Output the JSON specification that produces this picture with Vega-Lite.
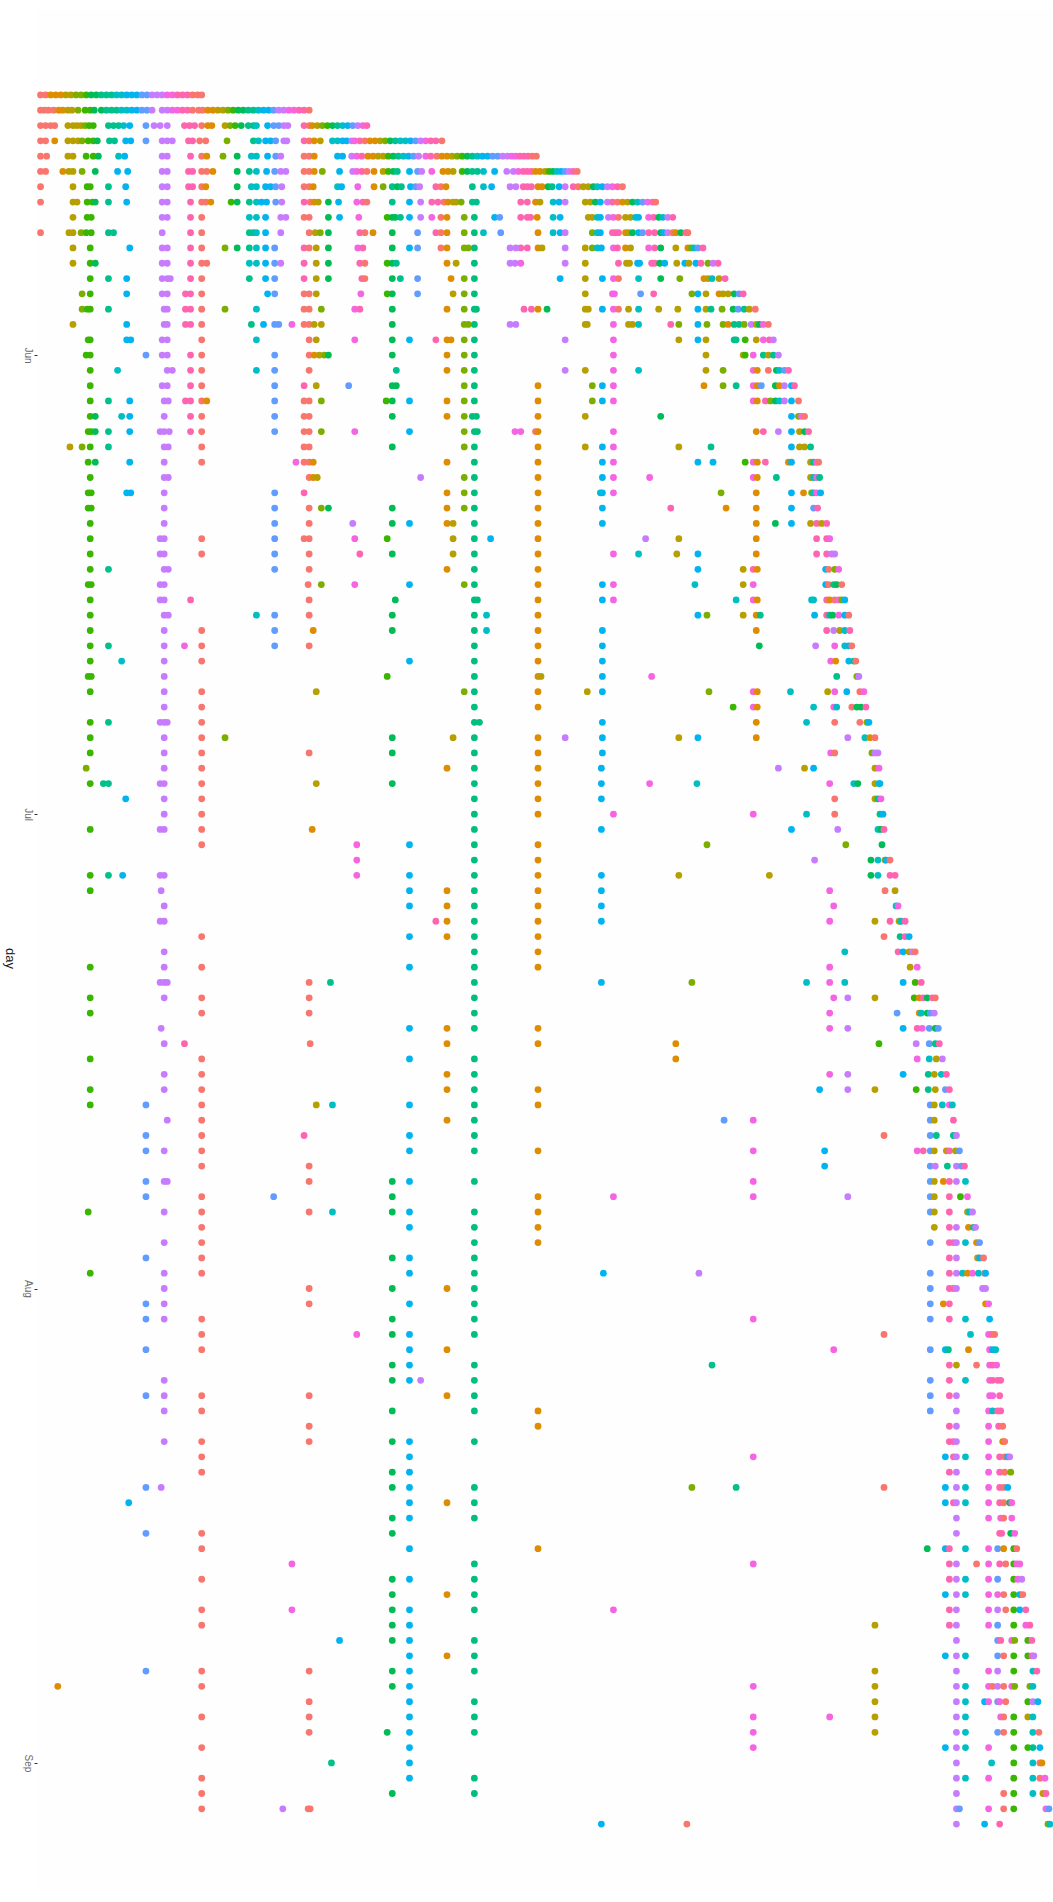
{"$schema":"https://vega.github.io/schema/vega-lite/v6.json","width":1016,"height":1882,"autosize":{"type":"none"},"padding":{"left":37,"top":10,"right":0,"bottom":10},"background":"white","view":{"stroke":null,"fill":"#fefefe"},
"data":{"format":{"parse":{"d":"utc:'%m-%d'"}},"values":[
{"d":"05-15","x":40,"c":0},{"d":"05-15","x":45,"c":0},{"d":"05-15","x":50,"c":1},{"d":"05-15","x":55,"c":1},{"d":"05-15","x":60,"c":1},{"d":"05-15","x":65,"c":2},{"d":"05-15","x":70,"c":2},{"d":"05-15","x":75,"c":3},{"d":"05-15","x":80,"c":3},{"d":"05-15","x":85,"c":4},{"d":"05-15","x":90,"c":5},{"d":"05-15","x":95,"c":5},{"d":"05-15","x":100,"c":6},{"d":"05-15","x":105,"c":6},{"d":"05-15","x":110,"c":6},{"d":"05-15","x":115,"c":7},{"d":"05-15","x":120,"c":7},{"d":"05-15","x":125,"c":8},{"d":"05-15","x":130,"c":8},{"d":"05-15","x":135,"c":8},{"d":"05-15","x":140,"c":9},{"d":"05-15","x":145,"c":9},{"d":"05-15","x":150,"c":10},{"d":"05-15","x":155,"c":10},{"d":"05-15","x":160,"c":10},{"d":"05-15","x":165,"c":11},{"d":"05-15","x":170,"c":11},{"d":"05-15","x":175,"c":12},{"d":"05-15","x":180,"c":12},{"d":"05-15","x":185,"c":12},{"d":"05-15","x":190,"c":0},{"d":"05-15","x":195,"c":0},{"d":"05-15","x":199,"c":0},
{"d":"05-16","x":40,"c":0},{"d":"05-16","x":44,"c":0},{"d":"05-16","x":48,"c":0},{"d":"05-16","x":53,"c":0},{"d":"05-16","x":58,"c":1},{"d":"05-16","x":62,"c":1},{"d":"05-16","x":67,"c":2},{"d":"05-16","x":71,"c":2},{"d":"05-16","x":77,"c":3},{"d":"05-16","x":84,"c":4},{"d":"05-16","x":89,"c":4},{"d":"05-16","x":93,"c":5},{"d":"05-16","x":100,"c":5},{"d":"05-16","x":105,"c":6},{"d":"05-16","x":110,"c":6},{"d":"05-16","x":115,"c":6},{"d":"05-16","x":120,"c":7},{"d":"05-16","x":125,"c":7},{"d":"05-16","x":130,"c":8},{"d":"05-16","x":135,"c":8},{"d":"05-16","x":140,"c":9},{"d":"05-16","x":145,"c":9},{"d":"05-16","x":150,"c":10},{"d":"05-16","x":160,"c":10},{"d":"05-16","x":165,"c":10},{"d":"05-16","x":170,"c":11},{"d":"05-16","x":175,"c":11},{"d":"05-16","x":180,"c":12},{"d":"05-16","x":185,"c":12},{"d":"05-16","x":190,"c":0},{"d":"05-16","x":196,"c":0},{"d":"05-16","x":200,"c":0},{"d":"05-16","x":205,"c":1},{"d":"05-16","x":210,"c":1},{"d":"05-16","x":215,"c":2},{"d":"05-16","x":220,"c":2},{"d":"05-16","x":225,"c":3},{"d":"05-16","x":230,"c":4},{"d":"05-16","x":235,"c":5},{"d":"05-16","x":240,"c":5},{"d":"05-16","x":245,"c":6},{"d":"05-16","x":250,"c":6},{"d":"05-16","x":255,"c":7},{"d":"05-16","x":260,"c":8},{"d":"05-16","x":265,"c":8},{"d":"05-16","x":270,"c":9},{"d":"05-16","x":275,"c":10},{"d":"05-16","x":280,"c":10},{"d":"05-16","x":285,"c":11},{"d":"05-16","x":290,"c":11},{"d":"05-16","x":295,"c":12},{"d":"05-16","x":300,"c":12},{"d":"05-16","x":305,"c":0},
{"d":"05-17","x":40,"c":0},{"d":"05-17","x":45,"c":0},{"d":"05-17","x":50,"c":0},{"d":"05-17","x":54,"c":0},{"d":"05-17","x":67,"c":2},{"d":"05-17","x":72,"c":2},{"d":"05-17","x":76,"c":2},{"d":"05-17","x":80,"c":2},{"d":"05-17","x":84,"c":3},{"d":"05-17","x":88,"c":4},{"d":"05-17","x":92,"c":4},{"d":"05-17","x":107,"c":6},{"d":"05-17","x":112,"c":6},{"d":"05-17","x":117,"c":6},{"d":"05-17","x":122,"c":7},{"d":"05-17","x":128,"c":8},{"d":"05-17","x":144,"c":9},{"d":"05-17","x":152,"c":10},{"d":"05-17","x":158,"c":10},{"d":"05-17","x":165,"c":10},{"d":"05-17","x":182,"c":12},{"d":"05-17","x":187,"c":12},{"d":"05-17","x":192,"c":12},{"d":"05-17","x":199,"c":0},{"d":"05-17","x":205,"c":1},{"d":"05-17","x":209,"c":1},{"d":"05-17","x":222,"c":2},{"d":"05-17","x":227,"c":3},{"d":"05-17","x":232,"c":4},{"d":"05-17","x":238,"c":5},{"d":"05-17","x":245,"c":6},{"d":"05-17","x":250,"c":6},{"d":"05-17","x":253,"c":7},{"d":"05-17","x":264,"c":8},{"d":"05-17","x":270,"c":9},{"d":"05-17","x":275,"c":9},{"d":"05-17","x":280,"c":10},{"d":"05-17","x":284,"c":10},{"d":"05-17","x":300,"c":12},{"d":"05-17","x":305,"c":0},{"d":"05-17","x":308,"c":1},{"d":"05-17","x":313,"c":2},{"d":"05-17","x":318,"c":3},{"d":"05-17","x":323,"c":4},{"d":"05-17","x":328,"c":5},{"d":"05-17","x":333,"c":6},{"d":"05-17","x":338,"c":7},{"d":"05-17","x":343,"c":8},{"d":"05-17","x":348,"c":9},{"d":"05-17","x":353,"c":10},{"d":"05-17","x":358,"c":11},{"d":"05-17","x":362,"c":12},
{"d":"05-18","x":40,"c":0},{"d":"05-18","x":45,"c":0},{"d":"05-18","x":54,"c":1},{"d":"05-18","x":67,"c":2},{"d":"05-18","x":72,"c":2},{"d":"05-18","x":77,"c":2},{"d":"05-18","x":81,"c":3},{"d":"05-18","x":87,"c":4},{"d":"05-18","x":92,"c":4},{"d":"05-18","x":96,"c":5},{"d":"05-18","x":108,"c":6},{"d":"05-18","x":113,"c":6},{"d":"05-18","x":124,"c":8},{"d":"05-18","x":129,"c":8},{"d":"05-18","x":144,"c":9},{"d":"05-18","x":160,"c":10},{"d":"05-18","x":165,"c":10},{"d":"05-18","x":170,"c":10},{"d":"05-18","x":186,"c":12},{"d":"05-18","x":190,"c":12},{"d":"05-18","x":197,"c":0},{"d":"05-18","x":203,"c":0},{"d":"05-18","x":224,"c":3},{"d":"05-18","x":250,"c":6},{"d":"05-18","x":255,"c":7},{"d":"05-18","x":262,"c":8},{"d":"05-18","x":267,"c":8},{"d":"05-18","x":272,"c":9},{"d":"05-18","x":280,"c":10},{"d":"05-18","x":283,"c":10},{"d":"05-18","x":300,"c":12},{"d":"05-18","x":305,"c":0},{"d":"05-18","x":310,"c":1},{"d":"05-18","x":316,"c":2},{"d":"05-18","x":328,"c":7},{"d":"05-18","x":333,"c":7},{"d":"05-18","x":338,"c":8},{"d":"05-18","x":342,"c":8},{"d":"05-18","x":347,"c":10},{"d":"05-18","x":350,"c":11},{"d":"05-18","x":355,"c":12},{"d":"05-18","x":360,"c":0},{"d":"05-18","x":365,"c":1},{"d":"05-18","x":370,"c":1},{"d":"05-18","x":375,"c":2},{"d":"05-18","x":380,"c":3},{"d":"05-18","x":385,"c":5},{"d":"05-18","x":390,"c":6},{"d":"05-18","x":395,"c":7},{"d":"05-18","x":400,"c":7},{"d":"05-18","x":405,"c":8},{"d":"05-18","x":410,"c":9},{"d":"05-18","x":415,"c":10},{"d":"05-18","x":420,"c":11},{"d":"05-18","x":425,"c":12},{"d":"05-18","x":430,"c":12},{"d":"05-18","x":436,"c":0},
{"d":"05-19","x":40,"c":0},{"d":"05-19","x":46,"c":0},{"d":"05-19","x":67,"c":2},{"d":"05-19","x":72,"c":2},{"d":"05-19","x":85,"c":4},{"d":"05-19","x":92,"c":4},{"d":"05-19","x":97,"c":5},{"d":"05-19","x":117,"c":7},{"d":"05-19","x":123,"c":8},{"d":"05-19","x":160,"c":10},{"d":"05-19","x":165,"c":10},{"d":"05-19","x":188,"c":12},{"d":"05-19","x":199,"c":0},{"d":"05-19","x":204,"c":1},{"d":"05-19","x":220,"c":3},{"d":"05-19","x":234,"c":5},{"d":"05-19","x":248,"c":7},{"d":"05-19","x":253,"c":7},{"d":"05-19","x":264,"c":8},{"d":"05-19","x":272,"c":9},{"d":"05-19","x":277,"c":10},{"d":"05-19","x":300,"c":0},{"d":"05-19","x":305,"c":0},{"d":"05-19","x":310,"c":1},{"d":"05-19","x":333,"c":8},{"d":"05-19","x":338,"c":8},{"d":"05-19","x":347,"c":10},{"d":"05-19","x":352,"c":11},{"d":"05-19","x":357,"c":12},{"d":"05-19","x":363,"c":1},{"d":"05-19","x":368,"c":1},{"d":"05-19","x":373,"c":2},{"d":"05-19","x":378,"c":2},{"d":"05-19","x":383,"c":4},{"d":"05-19","x":388,"c":5},{"d":"05-19","x":393,"c":6},{"d":"05-19","x":398,"c":7},{"d":"05-19","x":403,"c":8},{"d":"05-19","x":408,"c":9},{"d":"05-19","x":413,"c":10},{"d":"05-19","x":420,"c":11},{"d":"05-19","x":425,"c":12},{"d":"05-19","x":431,"c":0},{"d":"05-19","x":436,"c":1},{"d":"05-19","x":441,"c":1},{"d":"05-19","x":446,"c":2},{"d":"05-19","x":451,"c":3},{"d":"05-19","x":456,"c":4},{"d":"05-19","x":461,"c":5},{"d":"05-19","x":466,"c":6},{"d":"05-19","x":471,"c":7},{"d":"05-19","x":476,"c":8},{"d":"05-19","x":481,"c":8},{"d":"05-19","x":486,"c":9},{"d":"05-19","x":491,"c":9},{"d":"05-19","x":496,"c":10},{"d":"05-19","x":501,"c":10},{"d":"05-19","x":506,"c":11},{"d":"05-19","x":511,"c":11},{"d":"05-19","x":516,"c":12},{"d":"05-19","x":521,"c":12},{"d":"05-19","x":526,"c":12},{"d":"05-19","x":531,"c":0},{"d":"05-19","x":536,"c":0},
{"d":"05-20","x":40,"c":0},{"d":"05-20","x":45,"c":0},{"d":"05-20","x":62,"c":1},{"d":"05-20","x":68,"c":2},{"d":"05-20","x":72,"c":2},{"d":"05-20","x":81,"c":3},{"d":"05-20","x":94,"c":5},{"d":"05-20","x":116,"c":8},{"d":"05-20","x":126,"c":8},{"d":"05-20","x":160,"c":10},{"d":"05-20","x":165,"c":10},{"d":"05-20","x":186,"c":12},{"d":"05-20","x":190,"c":12},{"d":"05-20","x":199,"c":0},{"d":"05-20","x":204,"c":0},{"d":"05-20","x":210,"c":1},{"d":"05-20","x":234,"c":5},{"d":"05-20","x":246,"c":6},{"d":"05-20","x":253,"c":7},{"d":"05-20","x":263,"c":8},{"d":"05-20","x":271,"c":9},{"d":"05-20","x":277,"c":10},{"d":"05-20","x":282,"c":10},{"d":"05-20","x":300,"c":0},{"d":"05-20","x":305,"c":0},{"d":"05-20","x":310,"c":1},{"d":"05-20","x":318,"c":3},{"d":"05-20","x":335,"c":8},{"d":"05-20","x":348,"c":10},{"d":"05-20","x":352,"c":11},{"d":"05-20","x":357,"c":12},{"d":"05-20","x":362,"c":0},{"d":"05-20","x":369,"c":1},{"d":"05-20","x":378,"c":2},{"d":"05-20","x":383,"c":4},{"d":"05-20","x":388,"c":5},{"d":"05-20","x":392,"c":6},{"d":"05-20","x":404,"c":8},{"d":"05-20","x":412,"c":9},{"d":"05-20","x":416,"c":10},{"d":"05-20","x":426,"c":11},{"d":"05-20","x":437,"c":1},{"d":"05-20","x":442,"c":1},{"d":"05-20","x":447,"c":2},{"d":"05-20","x":456,"c":4},{"d":"05-20","x":461,"c":5},{"d":"05-20","x":466,"c":6},{"d":"05-20","x":471,"c":6},{"d":"05-20","x":477,"c":7},{"d":"05-20","x":488,"c":8},{"d":"05-20","x":500,"c":10},{"d":"05-20","x":508,"c":10},{"d":"05-20","x":514,"c":11},{"d":"05-20","x":520,"c":12},{"d":"05-20","x":525,"c":12},{"d":"05-20","x":530,"c":12},{"d":"05-20","x":535,"c":1},{"d":"05-20","x":540,"c":1},{"d":"05-20","x":545,"c":2},{"d":"05-20","x":549,"c":4},{"d":"05-20","x":553,"c":5},{"d":"05-20","x":557,"c":7},{"d":"05-20","x":561,"c":8},{"d":"05-20","x":565,"c":9},{"d":"05-20","x":569,"c":10},{"d":"05-20","x":573,"c":12},{"d":"05-20","x":577,"c":0},
{"d":"05-21","x":40,"c":0},{"d":"05-21","x":72,"c":2},{"d":"05-21","x":86,"c":4},{"d":"05-21","x":89,"c":4},{"d":"05-21","x":107,"c":6},{"d":"05-21","x":124,"c":8},{"d":"05-21","x":160,"c":10},{"d":"05-21","x":165,"c":10},{"d":"05-21","x":186,"c":12},{"d":"05-21","x":190,"c":12},{"d":"05-21","x":199,"c":0},{"d":"05-21","x":203,"c":1},{"d":"05-21","x":234,"c":5},{"d":"05-21","x":248,"c":7},{"d":"05-21","x":253,"c":7},{"d":"05-21","x":262,"c":8},{"d":"05-21","x":267,"c":8},{"d":"05-21","x":272,"c":9},{"d":"05-21","x":278,"c":10},{"d":"05-21","x":300,"c":0},{"d":"05-21","x":305,"c":0},{"d":"05-21","x":309,"c":1},{"d":"05-21","x":333,"c":7},{"d":"05-21","x":337,"c":8},{"d":"05-21","x":353,"c":11},{"d":"05-21","x":369,"c":1},{"d":"05-21","x":378,"c":3},{"d":"05-21","x":387,"c":6},{"d":"05-21","x":392,"c":5},{"d":"05-21","x":396,"c":6},{"d":"05-21","x":405,"c":8},{"d":"05-21","x":410,"c":9},{"d":"05-21","x":414,"c":10},{"d":"05-21","x":430,"c":12},{"d":"05-21","x":435,"c":0},{"d":"05-21","x":440,"c":1},{"d":"05-21","x":466,"c":6},{"d":"05-21","x":477,"c":7},{"d":"05-21","x":485,"c":8},{"d":"05-21","x":504,"c":10},{"d":"05-21","x":511,"c":10},{"d":"05-21","x":520,"c":12},{"d":"05-21","x":525,"c":12},{"d":"05-21","x":530,"c":12},{"d":"05-21","x":538,"c":1},{"d":"05-21","x":542,"c":1},{"d":"05-21","x":548,"c":5},{"d":"05-21","x":552,"c":6},{"d":"05-21","x":559,"c":8},{"d":"05-21","x":565,"c":10},{"d":"05-21","x":573,"c":12},{"d":"05-21","x":578,"c":0},{"d":"05-21","x":583,"c":2},{"d":"05-21","x":588,"c":2},{"d":"05-21","x":593,"c":5},{"d":"05-21","x":597,"c":7},{"d":"05-21","x":602,"c":8},{"d":"05-21","x":607,"c":10},{"d":"05-21","x":612,"c":11},{"d":"05-21","x":617,"c":12},{"d":"05-21","x":622,"c":0},
{"d":"05-22","x":40,"c":0},{"d":"05-22","x":72,"c":2},{"d":"05-22","x":76,"c":2},{"d":"05-22","x":86,"c":4},{"d":"05-22","x":91,"c":4},{"d":"05-22","x":94,"c":5},{"d":"05-22","x":107,"c":6},{"d":"05-22","x":125,"c":8},{"d":"05-22","x":160,"c":10},{"d":"05-22","x":165,"c":10},{"d":"05-22","x":188,"c":12},{"d":"05-22","x":199,"c":0},{"d":"05-22","x":203,"c":0},{"d":"05-22","x":208,"c":1},{"d":"05-22","x":228,"c":4},{"d":"05-22","x":234,"c":5},{"d":"05-22","x":246,"c":6},{"d":"05-22","x":253,"c":7},{"d":"05-22","x":258,"c":8},{"d":"05-22","x":263,"c":8},{"d":"05-22","x":272,"c":9},{"d":"05-22","x":278,"c":10},{"d":"05-22","x":300,"c":12},{"d":"05-22","x":306,"c":0},{"d":"05-22","x":310,"c":1},{"d":"05-22","x":314,"c":2},{"d":"05-22","x":324,"c":5},{"d":"05-22","x":334,"c":8},{"d":"05-22","x":352,"c":11},{"d":"05-22","x":358,"c":12},{"d":"05-22","x":362,"c":0},{"d":"05-22","x":387,"c":6},{"d":"05-22","x":404,"c":8},{"d":"05-22","x":415,"c":10},{"d":"05-22","x":426,"c":12},{"d":"05-22","x":432,"c":12},{"d":"05-22","x":438,"c":0},{"d":"05-22","x":442,"c":1},{"d":"05-22","x":447,"c":2},{"d":"05-22","x":450,"c":2},{"d":"05-22","x":455,"c":3},{"d":"05-22","x":466,"c":6},{"d":"05-22","x":470,"c":6},{"d":"05-22","x":517,"c":12},{"d":"05-22","x":525,"c":12},{"d":"05-22","x":535,"c":1},{"d":"05-22","x":540,"c":2},{"d":"05-22","x":553,"c":7},{"d":"05-22","x":559,"c":8},{"d":"05-22","x":565,"c":10},{"d":"05-22","x":585,"c":2},{"d":"05-22","x":590,"c":2},{"d":"05-22","x":595,"c":5},{"d":"05-22","x":600,"c":8},{"d":"05-22","x":607,"c":10},{"d":"05-22","x":612,"c":12},{"d":"05-22","x":617,"c":0},{"d":"05-22","x":622,"c":1},{"d":"05-22","x":627,"c":2},{"d":"05-22","x":632,"c":5},{"d":"05-22","x":637,"c":7},{"d":"05-22","x":642,"c":9},{"d":"05-22","x":647,"c":11},{"d":"05-22","x":652,"c":12},{"d":"05-22","x":655,"c":0},
{"d":"05-23","x":72,"c":2},{"d":"05-23","x":86,"c":4},{"d":"05-23","x":90,"c":4},{"d":"05-23","x":160,"c":10},{"d":"05-23","x":165,"c":10},{"d":"05-23","x":188,"c":12},{"d":"05-23","x":199,"c":0},{"d":"05-23","x":246,"c":7},{"d":"05-23","x":253,"c":7},{"d":"05-23","x":262,"c":8},{"d":"05-23","x":277,"c":10},{"d":"05-23","x":282,"c":10},{"d":"05-23","x":300,"c":0},{"d":"05-23","x":305,"c":0},{"d":"05-23","x":324,"c":5},{"d":"05-23","x":335,"c":8},{"d":"05-23","x":354,"c":11},{"d":"05-23","x":382,"c":4},{"d":"05-23","x":387,"c":5},{"d":"05-23","x":390,"c":5},{"d":"05-23","x":395,"c":6},{"d":"05-23","x":404,"c":8},{"d":"05-23","x":415,"c":10},{"d":"05-23","x":426,"c":11},{"d":"05-23","x":435,"c":0},{"d":"05-23","x":441,"c":1},{"d":"05-23","x":458,"c":3},{"d":"05-23","x":468,"c":13},{"d":"05-23","x":488,"c":8},{"d":"05-23","x":493,"c":9},{"d":"05-23","x":517,"c":12},{"d":"05-23","x":525,"c":12},{"d":"05-23","x":529,"c":12},{"d":"05-23","x":537,"c":1},{"d":"05-23","x":553,"c":7},{"d":"05-23","x":560,"c":8},{"d":"05-23","x":588,"c":2},{"d":"05-23","x":592,"c":2},{"d":"05-23","x":597,"c":7},{"d":"05-23","x":600,"c":8},{"d":"05-23","x":608,"c":10},{"d":"05-23","x":613,"c":11},{"d":"05-23","x":618,"c":0},{"d":"05-23","x":625,"c":2},{"d":"05-23","x":630,"c":2},{"d":"05-23","x":635,"c":7},{"d":"05-23","x":638,"c":8},{"d":"05-23","x":648,"c":11},{"d":"05-23","x":653,"c":12},{"d":"05-23","x":658,"c":5},{"d":"05-23","x":662,"c":7},{"d":"05-23","x":667,"c":10},{"d":"05-23","x":672,"c":12},
{"d":"05-24","x":40,"c":0},{"d":"05-24","x":68,"c":2},{"d":"05-24","x":72,"c":2},{"d":"05-24","x":80,"c":3},{"d":"05-24","x":85,"c":4},{"d":"05-24","x":90,"c":4},{"d":"05-24","x":107,"c":6},{"d":"05-24","x":112,"c":6},{"d":"05-24","x":160,"c":10},{"d":"05-24","x":188,"c":12},{"d":"05-24","x":199,"c":0},{"d":"05-24","x":246,"c":6},{"d":"05-24","x":250,"c":6},{"d":"05-24","x":253,"c":7},{"d":"05-24","x":262,"c":8},{"d":"05-24","x":277,"c":10},{"d":"05-24","x":305,"c":0},{"d":"05-24","x":311,"c":2},{"d":"05-24","x":316,"c":3},{"d":"05-24","x":324,"c":5},{"d":"05-24","x":355,"c":12},{"d":"05-24","x":360,"c":0},{"d":"05-24","x":368,"c":1},{"d":"05-24","x":387,"c":5},{"d":"05-24","x":412,"c":9},{"d":"05-24","x":430,"c":12},{"d":"05-24","x":435,"c":0},{"d":"05-24","x":441,"c":1},{"d":"05-24","x":458,"c":3},{"d":"05-24","x":468,"c":13},{"d":"05-24","x":477,"c":7},{"d":"05-24","x":494,"c":9},{"d":"05-24","x":538,"c":1},{"d":"05-24","x":553,"c":7},{"d":"05-24","x":560,"c":8},{"d":"05-24","x":565,"c":10},{"d":"05-24","x":592,"c":3},{"d":"05-24","x":597,"c":7},{"d":"05-24","x":600,"c":8},{"d":"05-24","x":612,"c":12},{"d":"05-24","x":615,"c":12},{"d":"05-24","x":618,"c":12},{"d":"05-24","x":625,"c":1},{"d":"05-24","x":628,"c":2},{"d":"05-24","x":632,"c":5},{"d":"05-24","x":638,"c":8},{"d":"05-24","x":642,"c":9},{"d":"05-24","x":648,"c":12},{"d":"05-24","x":654,"c":12},{"d":"05-24","x":660,"c":5},{"d":"05-24","x":663,"c":8},{"d":"05-24","x":667,"c":10},{"d":"05-24","x":672,"c":0},{"d":"05-24","x":675,"c":1},{"d":"05-24","x":680,"c":5},{"d":"05-24","x":685,"c":12},{"d":"05-24","x":687,"c":0},
{"d":"05-25","x":72,"c":2},{"d":"05-25","x":89,"c":4},{"d":"05-25","x":128,"c":8},{"d":"05-25","x":160,"c":10},{"d":"05-25","x":165,"c":10},{"d":"05-25","x":188,"c":12},{"d":"05-25","x":199,"c":0},{"d":"05-25","x":222,"c":3},{"d":"05-25","x":234,"c":5},{"d":"05-25","x":246,"c":6},{"d":"05-25","x":253,"c":7},{"d":"05-25","x":262,"c":8},{"d":"05-25","x":271,"c":9},{"d":"05-25","x":300,"c":12},{"d":"05-25","x":305,"c":0},{"d":"05-25","x":312,"c":2},{"d":"05-25","x":324,"c":5},{"d":"05-25","x":353,"c":11},{"d":"05-25","x":358,"c":12},{"d":"05-25","x":387,"c":5},{"d":"05-25","x":404,"c":8},{"d":"05-25","x":412,"c":9},{"d":"05-25","x":435,"c":0},{"d":"05-25","x":441,"c":1},{"d":"05-25","x":458,"c":3},{"d":"05-25","x":462,"c":3},{"d":"05-25","x":468,"c":13},{"d":"05-25","x":504,"c":10},{"d":"05-25","x":517,"c":12},{"d":"05-25","x":511,"c":10},{"d":"05-25","x":525,"c":12},{"d":"05-25","x":538,"c":1},{"d":"05-25","x":542,"c":2},{"d":"05-25","x":565,"c":10},{"d":"05-25","x":585,"c":2},{"d":"05-25","x":592,"c":3},{"d":"05-25","x":597,"c":7},{"d":"05-25","x":601,"c":8},{"d":"05-25","x":613,"c":11},{"d":"05-25","x":617,"c":12},{"d":"05-25","x":625,"c":1},{"d":"05-25","x":630,"c":2},{"d":"05-25","x":648,"c":11},{"d":"05-25","x":654,"c":12},{"d":"05-25","x":660,"c":5},{"d":"05-25","x":675,"c":2},{"d":"05-25","x":687,"c":1},{"d":"05-25","x":690,"c":3},{"d":"05-25","x":693,"c":7},{"d":"05-25","x":697,"c":9},{"d":"05-25","x":702,"c":12},
{"d":"05-26","x":72,"c":2},{"d":"05-26","x":89,"c":4},{"d":"05-26","x":94,"c":5},{"d":"05-26","x":160,"c":10},{"d":"05-26","x":165,"c":10},{"d":"05-26","x":188,"c":12},{"d":"05-26","x":199,"c":0},{"d":"05-26","x":204,"c":0},{"d":"05-26","x":246,"c":7},{"d":"05-26","x":253,"c":7},{"d":"05-26","x":262,"c":8},{"d":"05-26","x":271,"c":9},{"d":"05-26","x":277,"c":10},{"d":"05-26","x":300,"c":12},{"d":"05-26","x":312,"c":2},{"d":"05-26","x":324,"c":5},{"d":"05-26","x":355,"c":12},{"d":"05-26","x":360,"c":0},{"d":"05-26","x":382,"c":4},{"d":"05-26","x":387,"c":5},{"d":"05-26","x":391,"c":6},{"d":"05-26","x":441,"c":1},{"d":"05-26","x":450,"c":2},{"d":"05-26","x":468,"c":13},{"d":"05-26","x":504,"c":10},{"d":"05-26","x":510,"c":10},{"d":"05-26","x":517,"c":11},{"d":"05-26","x":565,"c":10},{"d":"05-26","x":585,"c":2},{"d":"05-26","x":618,"c":12},{"d":"05-26","x":626,"c":2},{"d":"05-26","x":629,"c":2},{"d":"05-26","x":637,"c":8},{"d":"05-26","x":639,"c":8},{"d":"05-26","x":651,"c":12},{"d":"05-26","x":654,"c":12},{"d":"05-26","x":659,"c":5},{"d":"05-26","x":664,"c":8},{"d":"05-26","x":676,"c":2},{"d":"05-26","x":684,"c":8},{"d":"05-26","x":688,"c":2},{"d":"05-26","x":695,"c":8},{"d":"05-26","x":700,"c":12},{"d":"05-26","x":707,"c":3},{"d":"05-26","x":712,"c":10},{"d":"05-26","x":717,"c":12},
{"d":"05-27","x":89,"c":4},{"d":"05-27","x":107,"c":6},{"d":"05-27","x":125,"c":8},{"d":"05-27","x":160,"c":10},{"d":"05-27","x":165,"c":10},{"d":"05-27","x":168,"c":10},{"d":"05-27","x":188,"c":12},{"d":"05-27","x":199,"c":0},{"d":"05-27","x":246,"c":6},{"d":"05-27","x":262,"c":8},{"d":"05-27","x":271,"c":9},{"d":"05-27","x":300,"c":12},{"d":"05-27","x":312,"c":2},{"d":"05-27","x":324,"c":5},{"d":"05-27","x":357,"c":12},{"d":"05-27","x":360,"c":0},{"d":"05-27","x":387,"c":5},{"d":"05-27","x":395,"c":6},{"d":"05-27","x":412,"c":9},{"d":"05-27","x":445,"c":1},{"d":"05-27","x":458,"c":3},{"d":"05-27","x":468,"c":13},{"d":"05-27","x":560,"c":8},{"d":"05-27","x":585,"c":2},{"d":"05-27","x":602,"c":8},{"d":"05-27","x":613,"c":11},{"d":"05-27","x":618,"c":0},{"d":"05-27","x":638,"c":7},{"d":"05-27","x":660,"c":5},{"d":"05-27","x":679,"c":3},{"d":"05-27","x":703,"c":1},{"d":"05-27","x":707,"c":2},{"d":"05-27","x":711,"c":7},{"d":"05-27","x":718,"c":2},{"d":"05-27","x":724,"c":12},
{"d":"05-28","x":81,"c":3},{"d":"05-28","x":89,"c":4},{"d":"05-28","x":125,"c":8},{"d":"05-28","x":160,"c":10},{"d":"05-28","x":165,"c":10},{"d":"05-28","x":183,"c":12},{"d":"05-28","x":188,"c":12},{"d":"05-28","x":199,"c":0},{"d":"05-28","x":264,"c":8},{"d":"05-28","x":271,"c":9},{"d":"05-28","x":300,"c":0},{"d":"05-28","x":305,"c":0},{"d":"05-28","x":312,"c":2},{"d":"05-28","x":356,"c":11},{"d":"05-28","x":382,"c":4},{"d":"05-28","x":387,"c":5},{"d":"05-28","x":412,"c":9},{"d":"05-28","x":447,"c":2},{"d":"05-28","x":458,"c":3},{"d":"05-28","x":468,"c":13},{"d":"05-28","x":585,"c":2},{"d":"05-28","x":612,"c":11},{"d":"05-28","x":614,"c":11},{"d":"05-28","x":640,"c":9},{"d":"05-28","x":653,"c":12},{"d":"05-28","x":691,"c":3},{"d":"05-28","x":697,"c":8},{"d":"05-28","x":705,"c":2},{"d":"05-28","x":718,"c":1},{"d":"05-28","x":722,"c":2},{"d":"05-28","x":727,"c":2},{"d":"05-28","x":733,"c":5},{"d":"05-28","x":738,"c":9},{"d":"05-28","x":742,"c":12},
{"d":"05-29","x":81,"c":3},{"d":"05-29","x":86,"c":4},{"d":"05-29","x":89,"c":4},{"d":"05-29","x":107,"c":6},{"d":"05-29","x":162,"c":10},{"d":"05-29","x":165,"c":10},{"d":"05-29","x":183,"c":12},{"d":"05-29","x":188,"c":12},{"d":"05-29","x":199,"c":0},{"d":"05-29","x":222,"c":3},{"d":"05-29","x":253,"c":7},{"d":"05-29","x":300,"c":0},{"d":"05-29","x":305,"c":0},{"d":"05-29","x":317,"c":3},{"d":"05-29","x":350,"c":11},{"d":"05-29","x":355,"c":12},{"d":"05-29","x":387,"c":5},{"d":"05-29","x":441,"c":1},{"d":"05-29","x":458,"c":3},{"d":"05-29","x":468,"c":13},{"d":"05-29","x":470,"c":13},{"d":"05-29","x":521,"c":12},{"d":"05-29","x":530,"c":12},{"d":"05-29","x":538,"c":1},{"d":"05-29","x":547,"c":5},{"d":"05-29","x":585,"c":2},{"d":"05-29","x":588,"c":2},{"d":"05-29","x":602,"c":8},{"d":"05-29","x":613,"c":11},{"d":"05-29","x":618,"c":0},{"d":"05-29","x":628,"c":2},{"d":"05-29","x":638,"c":7},{"d":"05-29","x":658,"c":2},{"d":"05-29","x":677,"c":2},{"d":"05-29","x":697,"c":8},{"d":"05-29","x":705,"c":2},{"d":"05-29","x":710,"c":6},{"d":"05-29","x":721,"c":3},{"d":"05-29","x":732,"c":5},{"d":"05-29","x":737,"c":9},{"d":"05-29","x":743,"c":6},{"d":"05-29","x":748,"c":2},{"d":"05-29","x":754,"c":0},
{"d":"05-30","x":72,"c":2},{"d":"05-30","x":125,"c":8},{"d":"05-30","x":162,"c":10},{"d":"05-30","x":165,"c":10},{"d":"05-30","x":183,"c":12},{"d":"05-30","x":188,"c":12},{"d":"05-30","x":199,"c":0},{"d":"05-30","x":248,"c":6},{"d":"05-30","x":260,"c":8},{"d":"05-30","x":271,"c":9},{"d":"05-30","x":275,"c":9},{"d":"05-30","x":288,"c":11},{"d":"05-30","x":300,"c":0},{"d":"05-30","x":305,"c":0},{"d":"05-30","x":310,"c":2},{"d":"05-30","x":317,"c":2},{"d":"05-30","x":387,"c":5},{"d":"05-30","x":458,"c":3},{"d":"05-30","x":462,"c":3},{"d":"05-30","x":468,"c":13},{"d":"05-30","x":504,"c":10},{"d":"05-30","x":511,"c":10},{"d":"05-30","x":585,"c":2},{"d":"05-30","x":587,"c":2},{"d":"05-30","x":613,"c":11},{"d":"05-30","x":628,"c":2},{"d":"05-30","x":632,"c":2},{"d":"05-30","x":638,"c":7},{"d":"05-30","x":670,"c":12},{"d":"05-30","x":678,"c":3},{"d":"05-30","x":697,"c":8},{"d":"05-30","x":706,"c":3},{"d":"05-30","x":722,"c":3},{"d":"05-30","x":727,"c":1},{"d":"05-30","x":733,"c":6},{"d":"05-30","x":738,"c":6},{"d":"05-30","x":743,"c":3},{"d":"05-30","x":750,"c":10},{"d":"05-30","x":755,"c":2},{"d":"05-30","x":758,"c":5},{"d":"05-30","x":762,"c":11},{"d":"05-30","x":767,"c":0},
{"d":"05-31","x":87,"c":4},{"d":"05-31","x":89,"c":4},{"d":"05-31","x":125,"c":8},{"d":"05-31","x":129,"c":8},{"d":"05-31","x":160,"c":10},{"d":"05-31","x":165,"c":10},{"d":"05-31","x":199,"c":0},{"d":"05-31","x":253,"c":7},{"d":"05-31","x":305,"c":0},{"d":"05-31","x":312,"c":2},{"d":"05-31","x":350,"c":11},{"d":"05-31","x":387,"c":5},{"d":"05-31","x":404,"c":8},{"d":"05-31","x":430,"c":12},{"d":"05-31","x":441,"c":1},{"d":"05-31","x":445,"c":1},{"d":"05-31","x":458,"c":3},{"d":"05-31","x":468,"c":13},{"d":"05-31","x":565,"c":10},{"d":"05-31","x":613,"c":11},{"d":"05-31","x":678,"c":2},{"d":"05-31","x":697,"c":8},{"d":"05-31","x":705,"c":2},{"d":"05-31","x":733,"c":6},{"d":"05-31","x":735,"c":6},{"d":"05-31","x":744,"c":4},{"d":"05-31","x":755,"c":2},{"d":"05-31","x":762,"c":11},{"d":"05-31","x":768,"c":12},{"d":"05-31","x":772,"c":10},
{"d":"06-01","x":85,"c":4},{"d":"06-01","x":89,"c":4},{"d":"06-01","x":144,"c":9},{"d":"06-01","x":160,"c":10},{"d":"06-01","x":165,"c":10},{"d":"06-01","x":188,"c":12},{"d":"06-01","x":199,"c":0},{"d":"06-01","x":271,"c":9},{"d":"06-01","x":305,"c":0},{"d":"06-01","x":310,"c":1},{"d":"06-01","x":315,"c":2},{"d":"06-01","x":320,"c":3},{"d":"06-01","x":324,"c":5},{"d":"06-01","x":387,"c":5},{"d":"06-01","x":441,"c":1},{"d":"06-01","x":458,"c":3},{"d":"06-01","x":468,"c":13},{"d":"06-01","x":613,"c":11},{"d":"06-01","x":705,"c":2},{"d":"06-01","x":742,"c":2},{"d":"06-01","x":744,"c":4},{"d":"06-01","x":752,"c":11},{"d":"06-01","x":762,"c":6},{"d":"06-01","x":767,"c":2},{"d":"06-01","x":772,"c":6},{"d":"06-01","x":777,"c":10},
{"d":"06-02","x":89,"c":4},{"d":"06-02","x":116,"c":7},{"d":"06-02","x":165,"c":10},{"d":"06-02","x":170,"c":10},{"d":"06-02","x":188,"c":12},{"d":"06-02","x":199,"c":0},{"d":"06-02","x":253,"c":7},{"d":"06-02","x":271,"c":9},{"d":"06-02","x":305,"c":0},{"d":"06-02","x":391,"c":6},{"d":"06-02","x":441,"c":1},{"d":"06-02","x":458,"c":3},{"d":"06-02","x":468,"c":13},{"d":"06-02","x":565,"c":10},{"d":"06-02","x":585,"c":2},{"d":"06-02","x":613,"c":11},{"d":"06-02","x":638,"c":7},{"d":"06-02","x":705,"c":2},{"d":"06-02","x":722,"c":3},{"d":"06-02","x":752,"c":11},{"d":"06-02","x":756,"c":1},{"d":"06-02","x":767,"c":0},{"d":"06-02","x":775,"c":5},{"d":"06-02","x":778,"c":7},{"d":"06-02","x":783,"c":9},{"d":"06-02","x":787,"c":12},
{"d":"06-03","x":89,"c":4},{"d":"06-03","x":160,"c":10},{"d":"06-03","x":165,"c":10},{"d":"06-03","x":188,"c":12},{"d":"06-03","x":199,"c":0},{"d":"06-03","x":271,"c":9},{"d":"06-03","x":300,"c":12},{"d":"06-03","x":312,"c":2},{"d":"06-03","x":344,"c":9},{"d":"06-03","x":387,"c":5},{"d":"06-03","x":391,"c":5},{"d":"06-03","x":458,"c":3},{"d":"06-03","x":468,"c":13},{"d":"06-03","x":538,"c":1},{"d":"06-03","x":592,"c":3},{"d":"06-03","x":602,"c":8},{"d":"06-03","x":613,"c":11},{"d":"06-03","x":703,"c":1},{"d":"06-03","x":722,"c":3},{"d":"06-03","x":735,"c":6},{"d":"06-03","x":752,"c":11},{"d":"06-03","x":756,"c":1},{"d":"06-03","x":760,"c":9},{"d":"06-03","x":774,"c":5},{"d":"06-03","x":778,"c":1},{"d":"06-03","x":783,"c":10},{"d":"06-03","x":790,"c":8},{"d":"06-03","x":793,"c":12},
{"d":"06-04","x":89,"c":4},{"d":"06-04","x":107,"c":6},{"d":"06-04","x":128,"c":8},{"d":"06-04","x":162,"c":10},{"d":"06-04","x":166,"c":10},{"d":"06-04","x":183,"c":12},{"d":"06-04","x":188,"c":12},{"d":"06-04","x":199,"c":0},{"d":"06-04","x":204,"c":1},{"d":"06-04","x":271,"c":9},{"d":"06-04","x":300,"c":0},{"d":"06-04","x":305,"c":0},{"d":"06-04","x":317,"c":3},{"d":"06-04","x":381,"c":4},{"d":"06-04","x":387,"c":5},{"d":"06-04","x":404,"c":8},{"d":"06-04","x":441,"c":1},{"d":"06-04","x":458,"c":3},{"d":"06-04","x":468,"c":13},{"d":"06-04","x":538,"c":1},{"d":"06-04","x":592,"c":3},{"d":"06-04","x":602,"c":8},{"d":"06-04","x":613,"c":11},{"d":"06-04","x":752,"c":11},{"d":"06-04","x":756,"c":1},{"d":"06-04","x":764,"c":12},{"d":"06-04","x":769,"c":3},{"d":"06-04","x":774,"c":5},{"d":"06-04","x":778,"c":7},{"d":"06-04","x":783,"c":10},{"d":"06-04","x":790,"c":8},{"d":"06-04","x":797,"c":0},
{"d":"06-05","x":89,"c":4},{"d":"06-05","x":94,"c":5},{"d":"06-05","x":120,"c":7},{"d":"06-05","x":128,"c":8},{"d":"06-05","x":162,"c":10},{"d":"06-05","x":188,"c":12},{"d":"06-05","x":199,"c":0},{"d":"06-05","x":271,"c":9},{"d":"06-05","x":300,"c":0},{"d":"06-05","x":305,"c":0},{"d":"06-05","x":387,"c":5},{"d":"06-05","x":441,"c":1},{"d":"06-05","x":458,"c":3},{"d":"06-05","x":466,"c":13},{"d":"06-05","x":470,"c":13},{"d":"06-05","x":538,"c":1},{"d":"06-05","x":585,"c":2},{"d":"06-05","x":660,"c":5},{"d":"06-05","x":790,"c":8},{"d":"06-05","x":797,"c":3},{"d":"06-05","x":800,"c":11},{"d":"06-05","x":803,"c":0},
{"d":"06-06","x":87,"c":4},{"d":"06-06","x":90,"c":4},{"d":"06-06","x":94,"c":5},{"d":"06-06","x":107,"c":6},{"d":"06-06","x":128,"c":8},{"d":"06-06","x":158,"c":10},{"d":"06-06","x":162,"c":10},{"d":"06-06","x":167,"c":10},{"d":"06-06","x":188,"c":12},{"d":"06-06","x":199,"c":0},{"d":"06-06","x":271,"c":9},{"d":"06-06","x":300,"c":0},{"d":"06-06","x":305,"c":0},{"d":"06-06","x":317,"c":3},{"d":"06-06","x":350,"c":11},{"d":"06-06","x":404,"c":8},{"d":"06-06","x":458,"c":3},{"d":"06-06","x":468,"c":13},{"d":"06-06","x":471,"c":13},{"d":"06-06","x":510,"c":11},{"d":"06-06","x":517,"c":11},{"d":"06-06","x":535,"c":0},{"d":"06-06","x":538,"c":1},{"d":"06-06","x":613,"c":11},{"d":"06-06","x":755,"c":1},{"d":"06-06","x":762,"c":12},{"d":"06-06","x":777,"c":10},{"d":"06-06","x":790,"c":8},{"d":"06-06","x":798,"c":2},{"d":"06-06","x":803,"c":5},{"d":"06-06","x":807,"c":12},
{"d":"06-07","x":69,"c":2},{"d":"06-07","x":81,"c":3},{"d":"06-07","x":89,"c":4},{"d":"06-07","x":107,"c":6},{"d":"06-07","x":162,"c":10},{"d":"06-07","x":166,"c":10},{"d":"06-07","x":199,"c":0},{"d":"06-07","x":300,"c":0},{"d":"06-07","x":305,"c":0},{"d":"06-07","x":387,"c":5},{"d":"06-07","x":458,"c":3},{"d":"06-07","x":468,"c":13},{"d":"06-07","x":538,"c":1},{"d":"06-07","x":585,"c":2},{"d":"06-07","x":602,"c":8},{"d":"06-07","x":613,"c":11},{"d":"06-07","x":678,"c":2},{"d":"06-07","x":710,"c":6},{"d":"06-07","x":790,"c":8},{"d":"06-07","x":798,"c":2},{"d":"06-07","x":803,"c":2},{"d":"06-07","x":809,"c":6},
{"d":"06-08","x":87,"c":4},{"d":"06-08","x":94,"c":5},{"d":"06-08","x":128,"c":8},{"d":"06-08","x":162,"c":10},{"d":"06-08","x":199,"c":0},{"d":"06-08","x":292,"c":11},{"d":"06-08","x":300,"c":0},{"d":"06-08","x":305,"c":0},{"d":"06-08","x":309,"c":1},{"d":"06-08","x":441,"c":1},{"d":"06-08","x":468,"c":13},{"d":"06-08","x":538,"c":1},{"d":"06-08","x":602,"c":8},{"d":"06-08","x":613,"c":11},{"d":"06-08","x":697,"c":8},{"d":"06-08","x":712,"c":8},{"d":"06-08","x":744,"c":4},{"d":"06-08","x":752,"c":11},{"d":"06-08","x":756,"c":1},{"d":"06-08","x":764,"c":12},{"d":"06-08","x":787,"c":1},{"d":"06-08","x":790,"c":8},{"d":"06-08","x":809,"c":2},{"d":"06-08","x":812,"c":6},{"d":"06-08","x":815,"c":11},{"d":"06-08","x":817,"c":0},
{"d":"06-09","x":89,"c":4},{"d":"06-09","x":162,"c":10},{"d":"06-09","x":166,"c":10},{"d":"06-09","x":305,"c":0},{"d":"06-09","x":309,"c":1},{"d":"06-09","x":313,"c":2},{"d":"06-09","x":415,"c":10},{"d":"06-09","x":458,"c":3},{"d":"06-09","x":468,"c":13},{"d":"06-09","x":538,"c":1},{"d":"06-09","x":602,"c":8},{"d":"06-09","x":613,"c":11},{"d":"06-09","x":649,"c":11},{"d":"06-09","x":752,"c":11},{"d":"06-09","x":756,"c":1},{"d":"06-09","x":775,"c":6},{"d":"06-09","x":809,"c":2},{"d":"06-09","x":812,"c":7},{"d":"06-09","x":815,"c":11},{"d":"06-09","x":818,"c":6},
{"d":"06-10","x":87,"c":4},{"d":"06-10","x":90,"c":4},{"d":"06-10","x":125,"c":8},{"d":"06-10","x":129,"c":8},{"d":"06-10","x":162,"c":10},{"d":"06-10","x":271,"c":9},{"d":"06-10","x":300,"c":12},{"d":"06-10","x":441,"c":1},{"d":"06-10","x":458,"c":3},{"d":"06-10","x":468,"c":13},{"d":"06-10","x":538,"c":1},{"d":"06-10","x":600,"c":7},{"d":"06-10","x":602,"c":8},{"d":"06-10","x":613,"c":11},{"d":"06-10","x":720,"c":3},{"d":"06-10","x":755,"c":1},{"d":"06-10","x":790,"c":8},{"d":"06-10","x":802,"c":1},{"d":"06-10","x":810,"c":3},{"d":"06-10","x":812,"c":7},{"d":"06-10","x":815,"c":11},{"d":"06-10","x":819,"c":8},
{"d":"06-11","x":87,"c":4},{"d":"06-11","x":90,"c":4},{"d":"06-11","x":162,"c":10},{"d":"06-11","x":271,"c":9},{"d":"06-11","x":305,"c":0},{"d":"06-11","x":317,"c":3},{"d":"06-11","x":324,"c":5},{"d":"06-11","x":387,"c":5},{"d":"06-11","x":441,"c":1},{"d":"06-11","x":458,"c":3},{"d":"06-11","x":468,"c":13},{"d":"06-11","x":538,"c":1},{"d":"06-11","x":602,"c":8},{"d":"06-11","x":670,"c":12},{"d":"06-11","x":725,"c":1},{"d":"06-11","x":755,"c":1},{"d":"06-11","x":790,"c":8},{"d":"06-11","x":812,"c":9},{"d":"06-11","x":816,"c":12},
{"d":"06-12","x":89,"c":4},{"d":"06-12","x":162,"c":10},{"d":"06-12","x":271,"c":9},{"d":"06-12","x":305,"c":0},{"d":"06-12","x":348,"c":10},{"d":"06-12","x":387,"c":5},{"d":"06-12","x":404,"c":8},{"d":"06-12","x":441,"c":1},{"d":"06-12","x":447,"c":2},{"d":"06-12","x":468,"c":13},{"d":"06-12","x":538,"c":1},{"d":"06-12","x":602,"c":8},{"d":"06-12","x":755,"c":1},{"d":"06-12","x":774,"c":5},{"d":"06-12","x":790,"c":8},{"d":"06-12","x":809,"c":2},{"d":"06-12","x":815,"c":12},{"d":"06-12","x":820,"c":2},{"d":"06-12","x":825,"c":12},
{"d":"06-13","x":89,"c":4},{"d":"06-13","x":158,"c":10},{"d":"06-13","x":162,"c":10},{"d":"06-13","x":199,"c":0},{"d":"06-13","x":271,"c":9},{"d":"06-13","x":300,"c":0},{"d":"06-13","x":305,"c":0},{"d":"06-13","x":350,"c":11},{"d":"06-13","x":382,"c":4},{"d":"06-13","x":447,"c":2},{"d":"06-13","x":468,"c":13},{"d":"06-13","x":484,"c":8},{"d":"06-13","x":538,"c":1},{"d":"06-13","x":645,"c":10},{"d":"06-13","x":678,"c":2},{"d":"06-13","x":755,"c":1},{"d":"06-13","x":815,"c":12},{"d":"06-13","x":825,"c":12},{"d":"06-13","x":828,"c":11},
{"d":"06-14","x":89,"c":4},{"d":"06-14","x":158,"c":10},{"d":"06-14","x":162,"c":10},{"d":"06-14","x":199,"c":0},{"d":"06-14","x":271,"c":9},{"d":"06-14","x":305,"c":0},{"d":"06-14","x":355,"c":12},{"d":"06-14","x":387,"c":5},{"d":"06-14","x":447,"c":2},{"d":"06-14","x":468,"c":13},{"d":"06-14","x":538,"c":1},{"d":"06-14","x":613,"c":11},{"d":"06-14","x":638,"c":7},{"d":"06-14","x":676,"c":2},{"d":"06-14","x":697,"c":8},{"d":"06-14","x":755,"c":1},{"d":"06-14","x":815,"c":12},{"d":"06-14","x":825,"c":12},{"d":"06-14","x":830,"c":10},{"d":"06-14","x":833,"c":10},
{"d":"06-15","x":89,"c":4},{"d":"06-15","x":107,"c":6},{"d":"06-15","x":162,"c":10},{"d":"06-15","x":166,"c":10},{"d":"06-15","x":271,"c":9},{"d":"06-15","x":305,"c":0},{"d":"06-15","x":441,"c":1},{"d":"06-15","x":468,"c":13},{"d":"06-15","x":538,"c":1},{"d":"06-15","x":697,"c":8},{"d":"06-15","x":742,"c":2},{"d":"06-15","x":752,"c":12},{"d":"06-15","x":756,"c":1},{"d":"06-15","x":824,"c":8},{"d":"06-15","x":827,"c":0},{"d":"06-15","x":833,"c":3},{"d":"06-15","x":837,"c":11},
{"d":"06-16","x":87,"c":4},{"d":"06-16","x":90,"c":4},{"d":"06-16","x":158,"c":10},{"d":"06-16","x":162,"c":10},{"d":"06-16","x":304,"c":0},{"d":"06-16","x":317,"c":3},{"d":"06-16","x":350,"c":11},{"d":"06-16","x":404,"c":8},{"d":"06-16","x":458,"c":3},{"d":"06-16","x":468,"c":13},{"d":"06-16","x":538,"c":1},{"d":"06-16","x":602,"c":8},{"d":"06-16","x":613,"c":11},{"d":"06-16","x":694,"c":7},{"d":"06-16","x":742,"c":2},{"d":"06-16","x":752,"c":11},{"d":"06-16","x":824,"c":8},{"d":"06-16","x":827,"c":0},{"d":"06-16","x":832,"c":6},{"d":"06-16","x":835,"c":5},{"d":"06-16","x":840,"c":0},
{"d":"06-17","x":89,"c":4},{"d":"06-17","x":158,"c":10},{"d":"06-17","x":162,"c":10},{"d":"06-17","x":188,"c":12},{"d":"06-17","x":305,"c":0},{"d":"06-17","x":390,"c":5},{"d":"06-17","x":468,"c":13},{"d":"06-17","x":471,"c":13},{"d":"06-17","x":538,"c":1},{"d":"06-17","x":602,"c":8},{"d":"06-17","x":613,"c":11},{"d":"06-17","x":735,"c":7},{"d":"06-17","x":752,"c":11},{"d":"06-17","x":756,"c":1},{"d":"06-17","x":810,"c":7},{"d":"06-17","x":812,"c":7},{"d":"06-17","x":825,"c":12},{"d":"06-17","x":828,"c":1},{"d":"06-17","x":833,"c":0},{"d":"06-17","x":837,"c":11},{"d":"06-17","x":840,"c":3},{"d":"06-17","x":843,"c":8},
{"d":"06-18","x":89,"c":4},{"d":"06-18","x":162,"c":10},{"d":"06-18","x":166,"c":10},{"d":"06-18","x":253,"c":7},{"d":"06-18","x":271,"c":9},{"d":"06-18","x":305,"c":0},{"d":"06-18","x":387,"c":5},{"d":"06-18","x":468,"c":13},{"d":"06-18","x":480,"c":7},{"d":"06-18","x":538,"c":1},{"d":"06-18","x":697,"c":8},{"d":"06-18","x":706,"c":3},{"d":"06-18","x":742,"c":2},{"d":"06-18","x":755,"c":1},{"d":"06-18","x":759,"c":6},{"d":"06-18","x":813,"c":8},{"d":"06-18","x":825,"c":12},{"d":"06-18","x":828,"c":6},{"d":"06-18","x":831,"c":5},{"d":"06-18","x":837,"c":11},{"d":"06-18","x":843,"c":8},{"d":"06-18","x":847,"c":0},
{"d":"06-19","x":89,"c":4},{"d":"06-19","x":162,"c":10},{"d":"06-19","x":199,"c":0},{"d":"06-19","x":271,"c":9},{"d":"06-19","x":309,"c":1},{"d":"06-19","x":387,"c":5},{"d":"06-19","x":468,"c":13},{"d":"06-19","x":480,"c":7},{"d":"06-19","x":538,"c":1},{"d":"06-19","x":602,"c":8},{"d":"06-19","x":755,"c":1},{"d":"06-19","x":825,"c":12},{"d":"06-19","x":832,"c":10},{"d":"06-19","x":838,"c":2},{"d":"06-19","x":843,"c":7},{"d":"06-19","x":848,"c":12},
{"d":"06-20","x":89,"c":4},{"d":"06-20","x":107,"c":6},{"d":"06-20","x":162,"c":10},{"d":"06-20","x":182,"c":11},{"d":"06-20","x":199,"c":0},{"d":"06-20","x":271,"c":9},{"d":"06-20","x":305,"c":0},{"d":"06-20","x":468,"c":13},{"d":"06-20","x":538,"c":1},{"d":"06-20","x":602,"c":8},{"d":"06-20","x":758,"c":5},{"d":"06-20","x":814,"c":10},{"d":"06-20","x":833,"c":11},{"d":"06-20","x":843,"c":7},{"d":"06-20","x":847,"c":8},{"d":"06-20","x":850,"c":0},
{"d":"06-21","x":89,"c":4},{"d":"06-21","x":120,"c":7},{"d":"06-21","x":162,"c":10},{"d":"06-21","x":199,"c":0},{"d":"06-21","x":404,"c":8},{"d":"06-21","x":468,"c":13},{"d":"06-21","x":538,"c":1},{"d":"06-21","x":602,"c":8},{"d":"06-21","x":829,"c":11},{"d":"06-21","x":834,"c":1},{"d":"06-21","x":847,"c":8},{"d":"06-21","x":852,"c":6},{"d":"06-21","x":854,"c":0},
{"d":"06-22","x":87,"c":4},{"d":"06-22","x":90,"c":4},{"d":"06-22","x":162,"c":10},{"d":"06-22","x":382,"c":4},{"d":"06-22","x":468,"c":13},{"d":"06-22","x":538,"c":1},{"d":"06-22","x":541,"c":2},{"d":"06-22","x":602,"c":8},{"d":"06-22","x":651,"c":11},{"d":"06-22","x":835,"c":6},{"d":"06-22","x":855,"c":3},{"d":"06-22","x":857,"c":10},
{"d":"06-23","x":89,"c":4},{"d":"06-23","x":162,"c":10},{"d":"06-23","x":199,"c":0},{"d":"06-23","x":312,"c":2},{"d":"06-23","x":458,"c":3},{"d":"06-23","x":468,"c":13},{"d":"06-23","x":538,"c":1},{"d":"06-23","x":587,"c":2},{"d":"06-23","x":602,"c":8},{"d":"06-23","x":708,"c":3},{"d":"06-23","x":752,"c":11},{"d":"06-23","x":756,"c":1},{"d":"06-23","x":789,"c":7},{"d":"06-23","x":826,"c":2},{"d":"06-23","x":833,"c":11},{"d":"06-23","x":845,"c":8},{"d":"06-23","x":858,"c":0},{"d":"06-23","x":862,"c":11},
{"d":"06-24","x":162,"c":10},{"d":"06-24","x":199,"c":0},{"d":"06-24","x":468,"c":13},{"d":"06-24","x":538,"c":1},{"d":"06-24","x":732,"c":4},{"d":"06-24","x":752,"c":11},{"d":"06-24","x":756,"c":1},{"d":"06-24","x":812,"c":7},{"d":"06-24","x":832,"c":11},{"d":"06-24","x":835,"c":7},{"d":"06-24","x":850,"c":0},{"d":"06-24","x":855,"c":5},{"d":"06-24","x":859,"c":5},{"d":"06-24","x":864,"c":12},
{"d":"06-25","x":89,"c":4},{"d":"06-25","x":107,"c":6},{"d":"06-25","x":158,"c":10},{"d":"06-25","x":162,"c":10},{"d":"06-25","x":165,"c":10},{"d":"06-25","x":199,"c":0},{"d":"06-25","x":468,"c":13},{"d":"06-25","x":473,"c":13},{"d":"06-25","x":602,"c":8},{"d":"06-25","x":755,"c":1},{"d":"06-25","x":805,"c":7},{"d":"06-25","x":833,"c":0},{"d":"06-25","x":858,"c":0},{"d":"06-25","x":865,"c":3},{"d":"06-25","x":867,"c":8},
{"d":"06-26","x":89,"c":4},{"d":"06-26","x":162,"c":10},{"d":"06-26","x":199,"c":0},{"d":"06-26","x":222,"c":3},{"d":"06-26","x":387,"c":5},{"d":"06-26","x":447,"c":2},{"d":"06-26","x":468,"c":13},{"d":"06-26","x":538,"c":1},{"d":"06-26","x":565,"c":10},{"d":"06-26","x":602,"c":8},{"d":"06-26","x":678,"c":2},{"d":"06-26","x":697,"c":8},{"d":"06-26","x":755,"c":1},{"d":"06-26","x":846,"c":10},{"d":"06-26","x":863,"c":7},{"d":"06-26","x":868,"c":1},{"d":"06-26","x":873,"c":0},
{"d":"06-27","x":89,"c":4},{"d":"06-27","x":162,"c":10},{"d":"06-27","x":199,"c":0},{"d":"06-27","x":305,"c":0},{"d":"06-27","x":387,"c":5},{"d":"06-27","x":468,"c":13},{"d":"06-27","x":538,"c":1},{"d":"06-27","x":602,"c":8},{"d":"06-27","x":829,"c":11},{"d":"06-27","x":833,"c":0},{"d":"06-27","x":870,"c":3},{"d":"06-27","x":873,"c":10},{"d":"06-27","x":876,"c":10},
{"d":"06-28","x":85,"c":3},{"d":"06-28","x":162,"c":10},{"d":"06-28","x":199,"c":0},{"d":"06-28","x":441,"c":1},{"d":"06-28","x":468,"c":13},{"d":"06-28","x":538,"c":1},{"d":"06-28","x":601,"c":8},{"d":"06-28","x":777,"c":10},{"d":"06-28","x":803,"c":2},{"d":"06-28","x":812,"c":8},{"d":"06-28","x":873,"c":2},{"d":"06-28","x":877,"c":11},
{"d":"06-29","x":89,"c":4},{"d":"06-29","x":102,"c":6},{"d":"06-29","x":107,"c":6},{"d":"06-29","x":158,"c":10},{"d":"06-29","x":162,"c":10},{"d":"06-29","x":199,"c":0},{"d":"06-29","x":312,"c":2},{"d":"06-29","x":387,"c":5},{"d":"06-29","x":468,"c":13},{"d":"06-29","x":538,"c":1},{"d":"06-29","x":601,"c":8},{"d":"06-29","x":649,"c":11},{"d":"06-29","x":696,"c":7},{"d":"06-29","x":828,"c":11},{"d":"06-29","x":852,"c":7},{"d":"06-29","x":856,"c":5},{"d":"06-29","x":873,"c":2},{"d":"06-29","x":877,"c":7},{"d":"06-29","x":878,"c":8},
{"d":"06-30","x":124,"c":8},{"d":"06-30","x":162,"c":10},{"d":"06-30","x":199,"c":0},{"d":"06-30","x":468,"c":13},{"d":"06-30","x":538,"c":1},{"d":"06-30","x":601,"c":8},{"d":"06-30","x":833,"c":0},{"d":"06-30","x":873,"c":2},{"d":"06-30","x":876,"c":6},{"d":"06-30","x":879,"c":11},
{"d":"07-01","x":162,"c":10},{"d":"07-01","x":199,"c":0},{"d":"07-01","x":468,"c":13},{"d":"07-01","x":538,"c":1},{"d":"07-01","x":613,"c":11},{"d":"07-01","x":752,"c":11},{"d":"07-01","x":805,"c":7},{"d":"07-01","x":833,"c":0},{"d":"07-01","x":878,"c":6},{"d":"07-01","x":881,"c":8},
{"d":"07-02","x":89,"c":4},{"d":"07-02","x":158,"c":10},{"d":"07-02","x":162,"c":10},{"d":"07-02","x":199,"c":0},{"d":"07-02","x":308,"c":1},{"d":"07-02","x":468,"c":13},{"d":"07-02","x":601,"c":8},{"d":"07-02","x":790,"c":8},{"d":"07-02","x":836,"c":10},{"d":"07-02","x":876,"c":7},{"d":"07-02","x":879,"c":5},{"d":"07-02","x":882,"c":12},
{"d":"07-03","x":199,"c":0},{"d":"07-03","x":352,"c":11},{"d":"07-03","x":404,"c":8},{"d":"07-03","x":468,"c":13},{"d":"07-03","x":538,"c":1},{"d":"07-03","x":706,"c":3},{"d":"07-03","x":844,"c":3},{"d":"07-03","x":880,"c":5},
{"d":"07-04","x":352,"c":11},{"d":"07-04","x":468,"c":13},{"d":"07-04","x":538,"c":1},{"d":"07-04","x":813,"c":10},{"d":"07-04","x":869,"c":5},{"d":"07-04","x":876,"c":7},{"d":"07-04","x":883,"c":2},{"d":"07-04","x":884,"c":8},{"d":"07-04","x":888,"c":0},
{"d":"07-05","x":89,"c":4},{"d":"07-05","x":107,"c":6},{"d":"07-05","x":121,"c":8},{"d":"07-05","x":158,"c":10},{"d":"07-05","x":162,"c":10},{"d":"07-05","x":352,"c":11},{"d":"07-05","x":404,"c":8},{"d":"07-05","x":468,"c":13},{"d":"07-05","x":538,"c":1},{"d":"07-05","x":601,"c":8},{"d":"07-05","x":678,"c":2},{"d":"07-05","x":768,"c":2},{"d":"07-05","x":869,"c":5},{"d":"07-05","x":876,"c":7},{"d":"07-05","x":888,"c":12},{"d":"07-05","x":893,"c":12},
{"d":"07-06","x":89,"c":4},{"d":"07-06","x":159,"c":10},{"d":"07-06","x":404,"c":8},{"d":"07-06","x":441,"c":1},{"d":"07-06","x":468,"c":13},{"d":"07-06","x":538,"c":1},{"d":"07-06","x":601,"c":8},{"d":"07-06","x":828,"c":11},{"d":"07-06","x":883,"c":0},{"d":"07-06","x":893,"c":2},
{"d":"07-07","x":162,"c":10},{"d":"07-07","x":404,"c":8},{"d":"07-07","x":441,"c":1},{"d":"07-07","x":468,"c":13},{"d":"07-07","x":538,"c":1},{"d":"07-07","x":601,"c":8},{"d":"07-07","x":832,"c":11},{"d":"07-07","x":894,"c":7},{"d":"07-07","x":896,"c":11},
{"d":"07-08","x":158,"c":10},{"d":"07-08","x":162,"c":10},{"d":"07-08","x":430,"c":12},{"d":"07-08","x":441,"c":1},{"d":"07-08","x":468,"c":13},{"d":"07-08","x":538,"c":1},{"d":"07-08","x":601,"c":8},{"d":"07-08","x":828,"c":11},{"d":"07-08","x":873,"c":2},{"d":"07-08","x":888,"c":12},{"d":"07-08","x":897,"c":2},{"d":"07-08","x":899,"c":7},{"d":"07-08","x":903,"c":12},
{"d":"07-09","x":199,"c":0},{"d":"07-09","x":404,"c":8},{"d":"07-09","x":441,"c":1},{"d":"07-09","x":468,"c":13},{"d":"07-09","x":538,"c":1},{"d":"07-09","x":882,"c":0},{"d":"07-09","x":898,"c":6},{"d":"07-09","x":903,"c":12},{"d":"07-09","x":907,"c":8},
{"d":"07-10","x":162,"c":10},{"d":"07-10","x":468,"c":13},{"d":"07-10","x":538,"c":1},{"d":"07-10","x":843,"c":7},{"d":"07-10","x":896,"c":12},{"d":"07-10","x":901,"c":8},{"d":"07-10","x":907,"c":2},{"d":"07-10","x":910,"c":10},{"d":"07-10","x":913,"c":0},
{"d":"07-11","x":89,"c":4},{"d":"07-11","x":162,"c":10},{"d":"07-11","x":199,"c":0},{"d":"07-11","x":404,"c":8},{"d":"07-11","x":468,"c":13},{"d":"07-11","x":538,"c":1},{"d":"07-11","x":828,"c":11},{"d":"07-11","x":908,"c":2},{"d":"07-11","x":915,"c":11},
{"d":"07-12","x":158,"c":10},{"d":"07-12","x":162,"c":10},{"d":"07-12","x":165,"c":10},{"d":"07-12","x":305,"c":0},{"d":"07-12","x":326,"c":6},{"d":"07-12","x":468,"c":13},{"d":"07-12","x":601,"c":8},{"d":"07-12","x":691,"c":3},{"d":"07-12","x":805,"c":7},{"d":"07-12","x":828,"c":11},{"d":"07-12","x":843,"c":7},{"d":"07-12","x":901,"c":8},{"d":"07-12","x":913,"c":4},{"d":"07-12","x":919,"c":12},
{"d":"07-13","x":89,"c":4},{"d":"07-13","x":162,"c":10},{"d":"07-13","x":199,"c":0},{"d":"07-13","x":305,"c":0},{"d":"07-13","x":468,"c":13},{"d":"07-13","x":832,"c":11},{"d":"07-13","x":846,"c":10},{"d":"07-13","x":873,"c":2},{"d":"07-13","x":912,"c":4},{"d":"07-13","x":917,"c":1},{"d":"07-13","x":921,"c":12},{"d":"07-13","x":925,"c":5},{"d":"07-13","x":930,"c":12},{"d":"07-13","x":933,"c":0},
{"d":"07-14","x":89,"c":4},{"d":"07-14","x":199,"c":0},{"d":"07-14","x":305,"c":0},{"d":"07-14","x":468,"c":13},{"d":"07-14","x":828,"c":11},{"d":"07-14","x":895,"c":9},{"d":"07-14","x":917,"c":1},{"d":"07-14","x":919,"c":7},{"d":"07-14","x":925,"c":5},{"d":"07-14","x":928,"c":9},{"d":"07-14","x":932,"c":10},
{"d":"07-15","x":159,"c":10},{"d":"07-15","x":404,"c":8},{"d":"07-15","x":441,"c":1},{"d":"07-15","x":468,"c":13},{"d":"07-15","x":538,"c":1},{"d":"07-15","x":828,"c":11},{"d":"07-15","x":846,"c":10},{"d":"07-15","x":901,"c":8},{"d":"07-15","x":915,"c":12},{"d":"07-15","x":920,"c":11},{"d":"07-15","x":927,"c":9},{"d":"07-15","x":933,"c":5},{"d":"07-15","x":936,"c":9},
{"d":"07-16","x":162,"c":10},{"d":"07-16","x":182,"c":12},{"d":"07-16","x":306,"c":0},{"d":"07-16","x":441,"c":1},{"d":"07-16","x":538,"c":1},{"d":"07-16","x":675,"c":1},{"d":"07-16","x":877,"c":4},{"d":"07-16","x":914,"c":10},{"d":"07-16","x":927,"c":9},{"d":"07-16","x":933,"c":6},{"d":"07-16","x":937,"c":12},
{"d":"07-17","x":89,"c":4},{"d":"07-17","x":199,"c":0},{"d":"07-17","x":404,"c":8},{"d":"07-17","x":468,"c":13},{"d":"07-17","x":675,"c":1},{"d":"07-17","x":915,"c":11},{"d":"07-17","x":927,"c":7},{"d":"07-17","x":934,"c":2},{"d":"07-17","x":940,"c":10},
{"d":"07-18","x":162,"c":10},{"d":"07-18","x":199,"c":0},{"d":"07-18","x":441,"c":1},{"d":"07-18","x":468,"c":13},{"d":"07-18","x":828,"c":11},{"d":"07-18","x":846,"c":10},{"d":"07-18","x":901,"c":8},{"d":"07-18","x":926,"c":6},{"d":"07-18","x":932,"c":2},{"d":"07-18","x":939,"c":7},{"d":"07-18","x":944,"c":12},
{"d":"07-19","x":89,"c":4},{"d":"07-19","x":162,"c":10},{"d":"07-19","x":199,"c":0},{"d":"07-19","x":441,"c":1},{"d":"07-19","x":468,"c":13},{"d":"07-19","x":538,"c":1},{"d":"07-19","x":818,"c":8},{"d":"07-19","x":846,"c":10},{"d":"07-19","x":873,"c":2},{"d":"07-19","x":914,"c":4},{"d":"07-19","x":926,"c":6},{"d":"07-19","x":933,"c":2},{"d":"07-19","x":943,"c":9},{"d":"07-19","x":947,"c":12},
{"d":"07-20","x":89,"c":4},{"d":"07-20","x":144,"c":9},{"d":"07-20","x":199,"c":0},{"d":"07-20","x":312,"c":2},{"d":"07-20","x":328,"c":7},{"d":"07-20","x":404,"c":8},{"d":"07-20","x":468,"c":13},{"d":"07-20","x":538,"c":1},{"d":"07-20","x":928,"c":9},{"d":"07-20","x":932,"c":2},{"d":"07-20","x":940,"c":7},{"d":"07-20","x":947,"c":11},{"d":"07-20","x":950,"c":7},
{"d":"07-21","x":165,"c":10},{"d":"07-21","x":199,"c":0},{"d":"07-21","x":441,"c":1},{"d":"07-21","x":468,"c":13},{"d":"07-21","x":723,"c":9},{"d":"07-21","x":752,"c":11},{"d":"07-21","x":928,"c":9},{"d":"07-21","x":932,"c":2},{"d":"07-21","x":951,"c":12},
{"d":"07-22","x":144,"c":9},{"d":"07-22","x":199,"c":0},{"d":"07-22","x":300,"c":12},{"d":"07-22","x":404,"c":8},{"d":"07-22","x":468,"c":13},{"d":"07-22","x":882,"c":0},{"d":"07-22","x":928,"c":9},{"d":"07-22","x":934,"c":6},{"d":"07-22","x":951,"c":6},{"d":"07-22","x":954,"c":10},
{"d":"07-23","x":144,"c":9},{"d":"07-23","x":162,"c":10},{"d":"07-23","x":199,"c":0},{"d":"07-23","x":404,"c":8},{"d":"07-23","x":468,"c":13},{"d":"07-23","x":538,"c":1},{"d":"07-23","x":752,"c":11},{"d":"07-23","x":823,"c":8},{"d":"07-23","x":915,"c":11},{"d":"07-23","x":921,"c":12},{"d":"07-23","x":928,"c":9},{"d":"07-23","x":932,"c":2},{"d":"07-23","x":944,"c":2},{"d":"07-23","x":947,"c":12},{"d":"07-23","x":953,"c":2},{"d":"07-23","x":957,"c":9},
{"d":"07-24","x":199,"c":0},{"d":"07-24","x":305,"c":0},{"d":"07-24","x":823,"c":8},{"d":"07-24","x":928,"c":9},{"d":"07-24","x":933,"c":10},{"d":"07-24","x":945,"c":6},{"d":"07-24","x":954,"c":10},{"d":"07-24","x":959,"c":9},{"d":"07-24","x":962,"c":12},
{"d":"07-25","x":144,"c":9},{"d":"07-25","x":162,"c":10},{"d":"07-25","x":165,"c":10},{"d":"07-25","x":305,"c":0},{"d":"07-25","x":387,"c":5},{"d":"07-25","x":404,"c":8},{"d":"07-25","x":468,"c":13},{"d":"07-25","x":752,"c":11},{"d":"07-25","x":928,"c":9},{"d":"07-25","x":932,"c":2},{"d":"07-25","x":941,"c":1},{"d":"07-25","x":947,"c":12},{"d":"07-25","x":954,"c":10},{"d":"07-25","x":963,"c":7},
{"d":"07-26","x":144,"c":9},{"d":"07-26","x":199,"c":0},{"d":"07-26","x":270,"c":9},{"d":"07-26","x":387,"c":5},{"d":"07-26","x":538,"c":1},{"d":"07-26","x":613,"c":11},{"d":"07-26","x":752,"c":11},{"d":"07-26","x":846,"c":10},{"d":"07-26","x":928,"c":9},{"d":"07-26","x":932,"c":2},{"d":"07-26","x":947,"c":12},{"d":"07-26","x":958,"c":4},{"d":"07-26","x":965,"c":11},
{"d":"07-27","x":87,"c":4},{"d":"07-27","x":162,"c":10},{"d":"07-27","x":199,"c":0},{"d":"07-27","x":305,"c":0},{"d":"07-27","x":328,"c":7},{"d":"07-27","x":387,"c":5},{"d":"07-27","x":404,"c":8},{"d":"07-27","x":468,"c":13},{"d":"07-27","x":538,"c":1},{"d":"07-27","x":928,"c":9},{"d":"07-27","x":932,"c":2},{"d":"07-27","x":947,"c":12},{"d":"07-27","x":965,"c":2},{"d":"07-27","x":967,"c":7},{"d":"07-27","x":970,"c":10},
{"d":"07-28","x":199,"c":0},{"d":"07-28","x":404,"c":8},{"d":"07-28","x":468,"c":13},{"d":"07-28","x":538,"c":1},{"d":"07-28","x":932,"c":2},{"d":"07-28","x":947,"c":12},{"d":"07-28","x":954,"c":10},{"d":"07-28","x":966,"c":1},{"d":"07-28","x":971,"c":6},{"d":"07-28","x":973,"c":10},
{"d":"07-29","x":162,"c":10},{"d":"07-29","x":199,"c":0},{"d":"07-29","x":468,"c":13},{"d":"07-29","x":538,"c":1},{"d":"07-29","x":928,"c":9},{"d":"07-29","x":947,"c":12},{"d":"07-29","x":951,"c":12},{"d":"07-29","x":954,"c":10},{"d":"07-29","x":963,"c":7},{"d":"07-29","x":974,"c":1},{"d":"07-29","x":977,"c":9},
{"d":"07-30","x":144,"c":9},{"d":"07-30","x":199,"c":0},{"d":"07-30","x":387,"c":5},{"d":"07-30","x":404,"c":8},{"d":"07-30","x":468,"c":13},{"d":"07-30","x":947,"c":12},{"d":"07-30","x":954,"c":10},{"d":"07-30","x":975,"c":1},{"d":"07-30","x":977,"c":8},{"d":"07-30","x":981,"c":0},
{"d":"07-31","x":89,"c":4},{"d":"07-31","x":162,"c":10},{"d":"07-31","x":199,"c":0},{"d":"07-31","x":404,"c":8},{"d":"07-31","x":468,"c":13},{"d":"07-31","x":603,"c":8},{"d":"07-31","x":698,"c":10},{"d":"07-31","x":928,"c":9},{"d":"07-31","x":947,"c":12},{"d":"07-31","x":954,"c":10},{"d":"07-31","x":960,"c":7},{"d":"07-31","x":965,"c":1},{"d":"07-31","x":970,"c":11},{"d":"07-31","x":976,"c":7},{"d":"07-31","x":982,"c":0},{"d":"07-31","x":983,"c":8},
{"d":"08-01","x":162,"c":10},{"d":"08-01","x":305,"c":0},{"d":"08-01","x":387,"c":5},{"d":"08-01","x":441,"c":1},{"d":"08-01","x":468,"c":13},{"d":"08-01","x":928,"c":9},{"d":"08-01","x":947,"c":12},{"d":"08-01","x":951,"c":12},{"d":"08-01","x":954,"c":10},{"d":"08-01","x":980,"c":10},{"d":"08-01","x":983,"c":10},
{"d":"08-02","x":144,"c":9},{"d":"08-02","x":162,"c":10},{"d":"08-02","x":305,"c":0},{"d":"08-02","x":404,"c":8},{"d":"08-02","x":468,"c":13},{"d":"08-02","x":928,"c":9},{"d":"08-02","x":941,"c":1},{"d":"08-02","x":947,"c":12},{"d":"08-02","x":983,"c":1},{"d":"08-02","x":986,"c":11},
{"d":"08-03","x":144,"c":9},{"d":"08-03","x":162,"c":10},{"d":"08-03","x":199,"c":0},{"d":"08-03","x":387,"c":5},{"d":"08-03","x":468,"c":13},{"d":"08-03","x":752,"c":11},{"d":"08-03","x":928,"c":9},{"d":"08-03","x":947,"c":12},{"d":"08-03","x":963,"c":7},{"d":"08-03","x":987,"c":8},
{"d":"08-04","x":199,"c":0},{"d":"08-04","x":352,"c":11},{"d":"08-04","x":387,"c":5},{"d":"08-04","x":404,"c":8},{"d":"08-04","x":468,"c":13},{"d":"08-04","x":882,"c":0},{"d":"08-04","x":968,"c":7},{"d":"08-04","x":986,"c":11},{"d":"08-04","x":989,"c":12},{"d":"08-04","x":992,"c":0},
{"d":"08-05","x":144,"c":9},{"d":"08-05","x":199,"c":0},{"d":"08-05","x":404,"c":8},{"d":"08-05","x":441,"c":1},{"d":"08-05","x":832,"c":11},{"d":"08-05","x":928,"c":9},{"d":"08-05","x":943,"c":8},{"d":"08-05","x":946,"c":6},{"d":"08-05","x":966,"c":1},{"d":"08-05","x":987,"c":11},{"d":"08-05","x":990,"c":8},{"d":"08-05","x":993,"c":7},
{"d":"08-06","x":387,"c":5},{"d":"08-06","x":404,"c":8},{"d":"08-06","x":468,"c":13},{"d":"08-06","x":711,"c":6},{"d":"08-06","x":947,"c":12},{"d":"08-06","x":954,"c":2},{"d":"08-06","x":974,"c":0},{"d":"08-06","x":987,"c":11},{"d":"08-06","x":990,"c":12},{"d":"08-06","x":994,"c":11},
{"d":"08-07","x":162,"c":10},{"d":"08-07","x":387,"c":5},{"d":"08-07","x":404,"c":8},{"d":"08-07","x":415,"c":10},{"d":"08-07","x":468,"c":13},{"d":"08-07","x":928,"c":9},{"d":"08-07","x":947,"c":12},{"d":"08-07","x":963,"c":7},{"d":"08-07","x":987,"c":11},{"d":"08-07","x":990,"c":12},{"d":"08-07","x":995,"c":12},{"d":"08-07","x":998,"c":12},
{"d":"08-08","x":144,"c":9},{"d":"08-08","x":162,"c":10},{"d":"08-08","x":199,"c":0},{"d":"08-08","x":305,"c":0},{"d":"08-08","x":441,"c":1},{"d":"08-08","x":468,"c":13},{"d":"08-08","x":928,"c":9},{"d":"08-08","x":947,"c":12},{"d":"08-08","x":954,"c":10},{"d":"08-08","x":987,"c":11},{"d":"08-08","x":990,"c":11},{"d":"08-08","x":997,"c":12},
{"d":"08-09","x":162,"c":10},{"d":"08-09","x":199,"c":0},{"d":"08-09","x":387,"c":5},{"d":"08-09","x":468,"c":13},{"d":"08-09","x":538,"c":1},{"d":"08-09","x":928,"c":9},{"d":"08-09","x":954,"c":10},{"d":"08-09","x":986,"c":11},{"d":"08-09","x":990,"c":7},{"d":"08-09","x":995,"c":12},{"d":"08-09","x":998,"c":12},
{"d":"08-10","x":305,"c":0},{"d":"08-10","x":538,"c":1},{"d":"08-10","x":947,"c":12},{"d":"08-10","x":954,"c":10},{"d":"08-10","x":986,"c":11},{"d":"08-10","x":996,"c":12},{"d":"08-10","x":1000,"c":0},
{"d":"08-11","x":162,"c":10},{"d":"08-11","x":199,"c":0},{"d":"08-11","x":305,"c":0},{"d":"08-11","x":387,"c":5},{"d":"08-11","x":404,"c":8},{"d":"08-11","x":468,"c":13},{"d":"08-11","x":947,"c":12},{"d":"08-11","x":951,"c":12},{"d":"08-11","x":954,"c":10},{"d":"08-11","x":986,"c":11},{"d":"08-11","x":1000,"c":1},{"d":"08-11","x":1002,"c":0},
{"d":"08-12","x":199,"c":0},{"d":"08-12","x":404,"c":8},{"d":"08-12","x":752,"c":11},{"d":"08-12","x":943,"c":8},{"d":"08-12","x":951,"c":12},{"d":"08-12","x":954,"c":10},{"d":"08-12","x":963,"c":7},{"d":"08-12","x":986,"c":11},{"d":"08-12","x":997,"c":12},{"d":"08-12","x":1002,"c":0},{"d":"08-12","x":1005,"c":8},{"d":"08-12","x":1007,"c":10},
{"d":"08-13","x":199,"c":0},{"d":"08-13","x":387,"c":5},{"d":"08-13","x":404,"c":8},{"d":"08-13","x":947,"c":12},{"d":"08-13","x":954,"c":10},{"d":"08-13","x":986,"c":11},{"d":"08-13","x":997,"c":12},{"d":"08-13","x":1002,"c":0},{"d":"08-13","x":1008,"c":3},
{"d":"08-14","x":144,"c":9},{"d":"08-14","x":159,"c":10},{"d":"08-14","x":387,"c":5},{"d":"08-14","x":404,"c":8},{"d":"08-14","x":468,"c":13},{"d":"08-14","x":691,"c":3},{"d":"08-14","x":735,"c":6},{"d":"08-14","x":882,"c":0},{"d":"08-14","x":943,"c":8},{"d":"08-14","x":954,"c":10},{"d":"08-14","x":963,"c":7},{"d":"08-14","x":986,"c":11},{"d":"08-14","x":997,"c":12},{"d":"08-14","x":1001,"c":0},{"d":"08-14","x":1005,"c":8},
{"d":"08-15","x":127,"c":8},{"d":"08-15","x":404,"c":8},{"d":"08-15","x":441,"c":1},{"d":"08-15","x":468,"c":13},{"d":"08-15","x":943,"c":8},{"d":"08-15","x":951,"c":12},{"d":"08-15","x":954,"c":10},{"d":"08-15","x":963,"c":7},{"d":"08-15","x":986,"c":11},{"d":"08-15","x":997,"c":12},{"d":"08-15","x":1001,"c":0},{"d":"08-15","x":1007,"c":5},{"d":"08-15","x":1009,"c":11},
{"d":"08-16","x":387,"c":5},{"d":"08-16","x":404,"c":8},{"d":"08-16","x":468,"c":13},{"d":"08-16","x":954,"c":10},{"d":"08-16","x":986,"c":11},{"d":"08-16","x":998,"c":11},{"d":"08-16","x":1001,"c":0},{"d":"08-16","x":1009,"c":11},
{"d":"08-17","x":144,"c":9},{"d":"08-17","x":199,"c":0},{"d":"08-17","x":387,"c":5},{"d":"08-17","x":954,"c":10},{"d":"08-17","x":997,"c":12},{"d":"08-17","x":999,"c":12},{"d":"08-17","x":1008,"c":5},{"d":"08-17","x":1012,"c":11},
{"d":"08-18","x":199,"c":0},{"d":"08-18","x":404,"c":8},{"d":"08-18","x":538,"c":1},{"d":"08-18","x":925,"c":5},{"d":"08-18","x":943,"c":8},{"d":"08-18","x":947,"c":12},{"d":"08-18","x":963,"c":7},{"d":"08-18","x":986,"c":11},{"d":"08-18","x":995,"c":9},{"d":"08-18","x":1001,"c":1},{"d":"08-18","x":1011,"c":4},{"d":"08-18","x":1014,"c":0},
{"d":"08-19","x":288,"c":11},{"d":"08-19","x":468,"c":13},{"d":"08-19","x":752,"c":11},{"d":"08-19","x":947,"c":12},{"d":"08-19","x":954,"c":10},{"d":"08-19","x":974,"c":0},{"d":"08-19","x":986,"c":11},{"d":"08-19","x":997,"c":12},{"d":"08-19","x":1003,"c":0},{"d":"08-19","x":1011,"c":4},{"d":"08-19","x":1014,"c":11},{"d":"08-19","x":1017,"c":11},
{"d":"08-20","x":199,"c":0},{"d":"08-20","x":387,"c":5},{"d":"08-20","x":404,"c":8},{"d":"08-20","x":468,"c":13},{"d":"08-20","x":947,"c":12},{"d":"08-20","x":954,"c":10},{"d":"08-20","x":963,"c":7},{"d":"08-20","x":986,"c":11},{"d":"08-20","x":995,"c":9},{"d":"08-20","x":1011,"c":4},{"d":"08-20","x":1015,"c":11},{"d":"08-20","x":1019,"c":10},
{"d":"08-21","x":387,"c":5},{"d":"08-21","x":441,"c":1},{"d":"08-21","x":468,"c":13},{"d":"08-21","x":943,"c":8},{"d":"08-21","x":954,"c":10},{"d":"08-21","x":963,"c":7},{"d":"08-21","x":986,"c":11},{"d":"08-21","x":995,"c":11},{"d":"08-21","x":1001,"c":0},{"d":"08-21","x":1011,"c":4},{"d":"08-21","x":1017,"c":8},{"d":"08-21","x":1020,"c":0},
{"d":"08-22","x":199,"c":0},{"d":"08-22","x":288,"c":11},{"d":"08-22","x":387,"c":5},{"d":"08-22","x":404,"c":8},{"d":"08-22","x":468,"c":13},{"d":"08-22","x":613,"c":11},{"d":"08-22","x":947,"c":12},{"d":"08-22","x":954,"c":10},{"d":"08-22","x":986,"c":11},{"d":"08-22","x":995,"c":10},{"d":"08-22","x":1003,"c":0},{"d":"08-22","x":1011,"c":4},{"d":"08-22","x":1017,"c":8},{"d":"08-22","x":1023,"c":12},
{"d":"08-23","x":199,"c":0},{"d":"08-23","x":387,"c":5},{"d":"08-23","x":404,"c":8},{"d":"08-23","x":873,"c":2},{"d":"08-23","x":947,"c":12},{"d":"08-23","x":954,"c":10},{"d":"08-23","x":986,"c":11},{"d":"08-23","x":995,"c":9},{"d":"08-23","x":1011,"c":4},{"d":"08-23","x":1023,"c":11},{"d":"08-23","x":1027,"c":12},
{"d":"08-24","x":335,"c":8},{"d":"08-24","x":387,"c":5},{"d":"08-24","x":404,"c":8},{"d":"08-24","x":468,"c":13},{"d":"08-24","x":954,"c":10},{"d":"08-24","x":995,"c":9},{"d":"08-24","x":998,"c":12},{"d":"08-24","x":1009,"c":11},{"d":"08-24","x":1012,"c":3},{"d":"08-24","x":1025,"c":4},{"d":"08-24","x":1029,"c":12},
{"d":"08-25","x":404,"c":8},{"d":"08-25","x":441,"c":1},{"d":"08-25","x":468,"c":13},{"d":"08-25","x":943,"c":8},{"d":"08-25","x":954,"c":10},{"d":"08-25","x":963,"c":7},{"d":"08-25","x":995,"c":9},{"d":"08-25","x":1001,"c":0},{"d":"08-25","x":1011,"c":4},{"d":"08-25","x":1025,"c":4},{"d":"08-25","x":1029,"c":12},{"d":"08-25","x":1031,"c":10},
{"d":"08-26","x":144,"c":9},{"d":"08-26","x":199,"c":0},{"d":"08-26","x":305,"c":0},{"d":"08-26","x":387,"c":5},{"d":"08-26","x":404,"c":8},{"d":"08-26","x":468,"c":13},{"d":"08-26","x":873,"c":2},{"d":"08-26","x":954,"c":10},{"d":"08-26","x":986,"c":11},{"d":"08-26","x":995,"c":10},{"d":"08-26","x":1011,"c":4},{"d":"08-26","x":1030,"c":7},{"d":"08-26","x":1034,"c":12},
{"d":"08-27","x":57,"c":1},{"d":"08-27","x":199,"c":0},{"d":"08-27","x":387,"c":5},{"d":"08-27","x":404,"c":8},{"d":"08-27","x":752,"c":11},{"d":"08-27","x":873,"c":2},{"d":"08-27","x":954,"c":10},{"d":"08-27","x":963,"c":7},{"d":"08-27","x":986,"c":11},{"d":"08-27","x":990,"c":0},{"d":"08-27","x":995,"c":10},{"d":"08-27","x":1001,"c":0},{"d":"08-27","x":1009,"c":11},{"d":"08-27","x":1012,"c":3},{"d":"08-27","x":1027,"c":3},{"d":"08-27","x":1030,"c":7},
{"d":"08-28","x":305,"c":0},{"d":"08-28","x":404,"c":8},{"d":"08-28","x":468,"c":13},{"d":"08-28","x":873,"c":2},{"d":"08-28","x":954,"c":10},{"d":"08-28","x":963,"c":7},{"d":"08-28","x":982,"c":8},{"d":"08-28","x":986,"c":11},{"d":"08-28","x":995,"c":9},{"d":"08-28","x":997,"c":11},{"d":"08-28","x":1003,"c":0},{"d":"08-28","x":1025,"c":4},{"d":"08-28","x":1030,"c":10},{"d":"08-28","x":1035,"c":8},
{"d":"08-29","x":199,"c":0},{"d":"08-29","x":305,"c":0},{"d":"08-29","x":404,"c":8},{"d":"08-29","x":468,"c":13},{"d":"08-29","x":752,"c":11},{"d":"08-29","x":828,"c":11},{"d":"08-29","x":873,"c":2},{"d":"08-29","x":954,"c":10},{"d":"08-29","x":963,"c":7},{"d":"08-29","x":998,"c":11},{"d":"08-29","x":1001,"c":0},{"d":"08-29","x":1011,"c":4},{"d":"08-29","x":1025,"c":2},{"d":"08-29","x":1030,"c":7},
{"d":"08-30","x":305,"c":0},{"d":"08-30","x":382,"c":5},{"d":"08-30","x":404,"c":8},{"d":"08-30","x":468,"c":13},{"d":"08-30","x":752,"c":11},{"d":"08-30","x":873,"c":2},{"d":"08-30","x":954,"c":10},{"d":"08-30","x":963,"c":7},{"d":"08-30","x":995,"c":9},{"d":"08-30","x":1001,"c":0},{"d":"08-30","x":1011,"c":4},{"d":"08-30","x":1030,"c":7},{"d":"08-30","x":1036,"c":0},
{"d":"08-31","x":199,"c":0},{"d":"08-31","x":404,"c":8},{"d":"08-31","x":752,"c":11},{"d":"08-31","x":943,"c":8},{"d":"08-31","x":954,"c":10},{"d":"08-31","x":963,"c":7},{"d":"08-31","x":986,"c":11},{"d":"08-31","x":1011,"c":4},{"d":"08-31","x":1025,"c":4},{"d":"08-31","x":1030,"c":6},{"d":"08-31","x":1037,"c":8},
{"d":"09-01","x":327,"c":6},{"d":"09-01","x":404,"c":8},{"d":"09-01","x":954,"c":10},{"d":"09-01","x":989,"c":7},{"d":"09-01","x":1011,"c":4},{"d":"09-01","x":1030,"c":7},{"d":"09-01","x":1037,"c":0},{"d":"09-01","x":1039,"c":1},
{"d":"09-02","x":199,"c":0},{"d":"09-02","x":404,"c":8},{"d":"09-02","x":468,"c":13},{"d":"09-02","x":954,"c":10},{"d":"09-02","x":963,"c":7},{"d":"09-02","x":986,"c":11},{"d":"09-02","x":1011,"c":4},{"d":"09-02","x":1030,"c":7},{"d":"09-02","x":1037,"c":0},{"d":"09-02","x":1042,"c":11},
{"d":"09-03","x":199,"c":0},{"d":"09-03","x":387,"c":5},{"d":"09-03","x":468,"c":13},{"d":"09-03","x":954,"c":10},{"d":"09-03","x":1001,"c":0},{"d":"09-03","x":1011,"c":4},{"d":"09-03","x":1030,"c":7},{"d":"09-03","x":1040,"c":2},{"d":"09-03","x":1043,"c":12},
{"d":"09-04","x":199,"c":0},{"d":"09-04","x":279,"c":10},{"d":"09-04","x":304,"c":0},{"d":"09-04","x":306,"c":0},{"d":"09-04","x":954,"c":10},{"d":"09-04","x":957,"c":9},{"d":"09-04","x":986,"c":11},{"d":"09-04","x":1001,"c":0},{"d":"09-04","x":1011,"c":4},{"d":"09-04","x":1043,"c":11},{"d":"09-04","x":1046,"c":9},
{"d":"09-05","x":601,"c":8},{"d":"09-05","x":686,"c":0},{"d":"09-05","x":954,"c":10},{"d":"09-05","x":982,"c":8},{"d":"09-05","x":997,"c":12},{"d":"09-05","x":1045,"c":3},{"d":"09-05","x":1047,"c":7}
]},
"mark":{"type":"circle","size":46,"opacity":1},
"encoding":{"x":{"field":"x","type":"quantitative","scale":{"domain":[37,500,538,1053],"range":[0.5,469.8,501,1019],"nice":false,"zero":false},"axis":null},
"y":{"field":"d","type":"temporal","title":"day","scale":{"type":"utc","reverse":true,"domain":[{"year":1900,"month":5,"date":9,"hours":10,"minutes":48,"utc":true},{"year":1900,"month":9,"date":9,"hours":10,"minutes":30,"utc":true}]},
"axis":{"values":[{"year":1900,"month":6,"date":1,"utc":true},{"year":1900,"month":7,"date":1,"utc":true},{"year":1900,"month":8,"date":1,"utc":true},{"year":1900,"month":9,"date":1,"utc":true}],"labelExpr":"utcFormat(datum.value,'%b')","domain":false,"grid":false,"tickSize":3,"tickColor":"#333333","labelAngle":90,"labelFont":"Liberation Sans","labelFontSize":10,"labelColor":"#6b6b6b","labelPadding":12,"labelAlign":"center","labelBaseline":"bottom","titleAngle":90,"titleFont":"Liberation Sans","titleFontSize":13,"titleFontWeight":"normal","titleColor":"#222222","titleX":-35,"titleY":948}},
"color":{"field":"c","type":"nominal","legend":null,"scale":{"domain":[0,1,2,3,4,5,6,7,8,9,10,11,12,13],"range":["#F8766D","#DE8C00","#B79F00","#7CAE00","#39B600","#00BC56","#00C08B","#00BFC4","#00B4F0","#619CFF","#C77CFF","#F564E3","#FF64B0","#00BF7D"]}}}}
